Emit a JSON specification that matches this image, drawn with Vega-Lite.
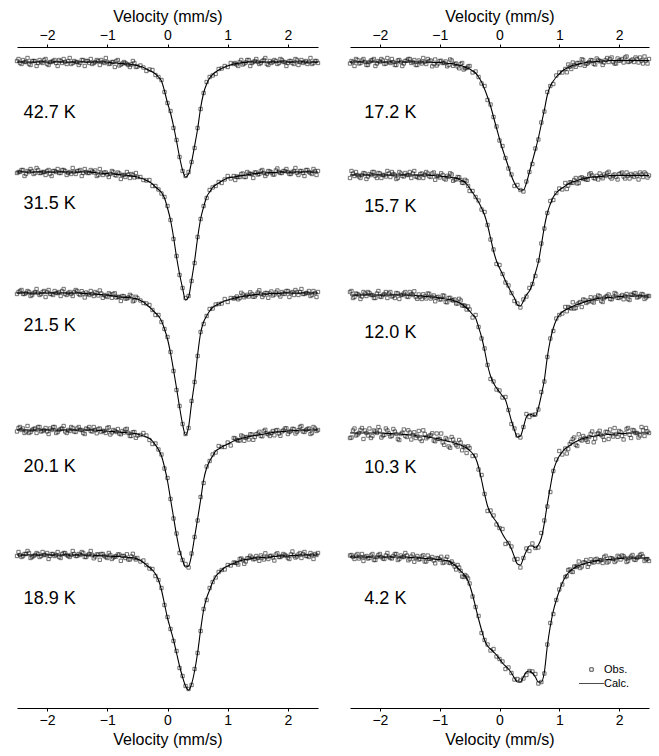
{
"$schema": "https://vega.github.io/schema/vega-lite/v6.json",
"padding": {"left": 13, "top": 8, "right": 5, "bottom": 5},
"background": "white",
"bounds": "flush",
"spacing": 32,
"config": {
  "font": "Liberation Sans",
  "view": {"stroke": null},
  "axis": {"domainColor": "#000", "tickColor": "#000", "labelColor": "#000", "titleColor": "#000", "labelFontSize": 14, "titleFontSize": 16, "titleFontWeight": "normal", "tickSize": 3, "grid": false, "labelPadding": 2, "titlePadding": 4, "domainWidth": 1, "tickWidth": 1}
},
"datasets": {
"labL": [{"s":"42.7 K","v":-2.39,"t":5.95},{"s":"31.5 K","v":-2.39,"t":5.04},{"s":"21.5 K","v":-2.39,"t":3.82},{"s":"20.1 K","v":-2.39,"t":2.41},{"s":"18.9 K","v":-2.39,"t":1.09}],
"labR": [{"s":"17.2 K","v":-2.26,"t":5.95},{"s":"15.7 K","v":-2.26,"t":5.01},{"s":"12.0 K","v":-2.26,"t":3.75},{"s":"10.3 K","v":-2.26,"t":2.40},{"s":"4.2 K","v":-2.26,"t":1.09}],
"LX": [
{"s":"42.7 K","v":-2.475,"o":6.49},{"s":"42.7 K","v":-2.425,"o":6.44},{"s":"42.7 K","v":-2.375,"o":6.46},{"s":"42.7 K","v":-2.325,"o":6.5},{"s":"42.7 K","v":-2.275,"o":6.43},{"s":"42.7 K","v":-2.225,"o":6.47},{"s":"42.7 K","v":-2.175,"o":6.42},{"s":"42.7 K","v":-2.125,"o":6.48},{"s":"42.7 K","v":-2.075,"o":6.45},{"s":"42.7 K","v":-2.025,"o":6.49},
{"s":"42.7 K","v":-1.975,"o":6.43},{"s":"42.7 K","v":-1.925,"o":6.46},{"s":"42.7 K","v":-1.875,"o":6.48},{"s":"42.7 K","v":-1.825,"o":6.42},{"s":"42.7 K","v":-1.775,"o":6.47},{"s":"42.7 K","v":-1.725,"o":6.49},{"s":"42.7 K","v":-1.675,"o":6.44},{"s":"42.7 K","v":-1.625,"o":6.5},{"s":"42.7 K","v":-1.575,"o":6.45},{"s":"42.7 K","v":-1.525,"o":6.46},
{"s":"42.7 K","v":-1.475,"o":6.43},{"s":"42.7 K","v":-1.425,"o":6.48},{"s":"42.7 K","v":-1.375,"o":6.42},{"s":"42.7 K","v":-1.325,"o":6.47},{"s":"42.7 K","v":-1.275,"o":6.49},{"s":"42.7 K","v":-1.225,"o":6.45},{"s":"42.7 K","v":-1.175,"o":6.48},{"s":"42.7 K","v":-1.125,"o":6.43},{"s":"42.7 K","v":-1.075,"o":6.46},{"s":"42.7 K","v":-1.025,"o":6.5},
{"s":"42.7 K","v":-0.975,"o":6.44},{"s":"42.7 K","v":-0.925,"o":6.46},{"s":"42.7 K","v":-0.875,"o":6.41},{"s":"42.7 K","v":-0.825,"o":6.48},{"s":"42.7 K","v":-0.775,"o":6.435},{"s":"42.7 K","v":-0.725,"o":6.46},{"s":"42.7 K","v":-0.675,"o":6.44},{"s":"42.7 K","v":-0.625,"o":6.41},{"s":"42.7 K","v":-0.575,"o":6.47},{"s":"42.7 K","v":-0.525,"o":6.41},
{"s":"42.7 K","v":1.125,"o":6.45},{"s":"42.7 K","v":1.175,"o":6.42},{"s":"42.7 K","v":1.225,"o":6.48},{"s":"42.7 K","v":1.275,"o":6.445},{"s":"42.7 K","v":1.325,"o":6.48},{"s":"42.7 K","v":1.375,"o":6.42},{"s":"42.7 K","v":1.425,"o":6.46},{"s":"42.7 K","v":1.475,"o":6.49},{"s":"42.7 K","v":1.525,"o":6.44},{"s":"42.7 K","v":1.575,"o":6.47},
{"s":"42.7 K","v":1.625,"o":6.5},{"s":"42.7 K","v":1.675,"o":6.43},{"s":"42.7 K","v":1.725,"o":6.45},{"s":"42.7 K","v":1.775,"o":6.48},{"s":"42.7 K","v":1.825,"o":6.44},{"s":"42.7 K","v":1.875,"o":6.49},{"s":"42.7 K","v":1.925,"o":6.46},{"s":"42.7 K","v":1.975,"o":6.42},{"s":"42.7 K","v":2.025,"o":6.47},{"s":"42.7 K","v":2.075,"o":6.45},
{"s":"42.7 K","v":2.125,"o":6.49},{"s":"42.7 K","v":2.175,"o":6.43},{"s":"42.7 K","v":2.225,"o":6.48},{"s":"42.7 K","v":2.275,"o":6.46},{"s":"42.7 K","v":2.325,"o":6.44},{"s":"42.7 K","v":2.375,"o":6.5},{"s":"42.7 K","v":2.425,"o":6.45},{"s":"42.7 K","v":2.475,"o":6.47},

{"s":"31.5 K","v":-2.475,"o":5.36},{"s":"31.5 K","v":-2.425,"o":5.38},{"s":"31.5 K","v":-2.375,"o":5.32},{"s":"31.5 K","v":-2.325,"o":5.37},{"s":"31.5 K","v":-2.275,"o":5.39},{"s":"31.5 K","v":-2.225,"o":5.34},{"s":"31.5 K","v":-2.175,"o":5.4},{"s":"31.5 K","v":-2.125,"o":5.35},{"s":"31.5 K","v":-2.075,"o":5.36},{"s":"31.5 K","v":-2.025,"o":5.33},
{"s":"31.5 K","v":-1.975,"o":5.38},{"s":"31.5 K","v":-1.925,"o":5.32},{"s":"31.5 K","v":-1.875,"o":5.37},{"s":"31.5 K","v":-1.825,"o":5.39},{"s":"31.5 K","v":-1.775,"o":5.35},{"s":"31.5 K","v":-1.725,"o":5.38},{"s":"31.5 K","v":-1.675,"o":5.33},{"s":"31.5 K","v":-1.625,"o":5.36},{"s":"31.5 K","v":-1.575,"o":5.4},{"s":"31.5 K","v":-1.525,"o":5.34},
{"s":"31.5 K","v":-1.475,"o":5.37},{"s":"31.5 K","v":-1.425,"o":5.32},{"s":"31.5 K","v":-1.375,"o":5.39},{"s":"31.5 K","v":-1.325,"o":5.35},{"s":"31.5 K","v":-1.275,"o":5.38},{"s":"31.5 K","v":-1.225,"o":5.355},{"s":"31.5 K","v":-1.175,"o":5.32},{"s":"31.5 K","v":-1.125,"o":5.39},{"s":"31.5 K","v":-1.075,"o":5.33},{"s":"31.5 K","v":-1.025,"o":5.355},
{"s":"31.5 K","v":-0.975,"o":5.31},{"s":"31.5 K","v":-0.925,"o":5.37},{"s":"31.5 K","v":-0.875,"o":5.33},{"s":"31.5 K","v":-0.825,"o":5.355},{"s":"31.5 K","v":-0.775,"o":5.29},{"s":"31.5 K","v":-0.725,"o":5.33},{"s":"31.5 K","v":-0.675,"o":5.36},{"s":"31.5 K","v":-0.625,"o":5.3},{"s":"31.5 K","v":-0.575,"o":5.33},{"s":"31.5 K","v":-0.525,"o":5.35},
{"s":"31.5 K","v":1.125,"o":5.28},{"s":"31.5 K","v":1.175,"o":5.31},{"s":"31.5 K","v":1.225,"o":5.34},{"s":"31.5 K","v":1.275,"o":5.31},{"s":"31.5 K","v":1.325,"o":5.36},{"s":"31.5 K","v":1.375,"o":5.34},{"s":"31.5 K","v":1.425,"o":5.3},{"s":"31.5 K","v":1.475,"o":5.355},{"s":"31.5 K","v":1.525,"o":5.34},{"s":"31.5 K","v":1.575,"o":5.38},
{"s":"31.5 K","v":1.625,"o":5.32},{"s":"31.5 K","v":1.675,"o":5.37},{"s":"31.5 K","v":1.725,"o":5.355},{"s":"31.5 K","v":1.775,"o":5.335},{"s":"31.5 K","v":1.825,"o":5.395},{"s":"31.5 K","v":1.875,"o":5.35},{"s":"31.5 K","v":1.925,"o":5.37},{"s":"31.5 K","v":1.975,"o":5.39},{"s":"31.5 K","v":2.025,"o":5.34},{"s":"31.5 K","v":2.075,"o":5.36},
{"s":"31.5 K","v":2.125,"o":5.4},{"s":"31.5 K","v":2.175,"o":5.33},{"s":"31.5 K","v":2.225,"o":5.37},{"s":"31.5 K","v":2.275,"o":5.32},{"s":"31.5 K","v":2.325,"o":5.38},{"s":"31.5 K","v":2.375,"o":5.35},{"s":"31.5 K","v":2.425,"o":5.39},{"s":"31.5 K","v":2.475,"o":5.33},

{"s":"21.5 K","v":-2.475,"o":4.16},{"s":"21.5 K","v":-2.425,"o":4.18},{"s":"21.5 K","v":-2.375,"o":4.14},{"s":"21.5 K","v":-2.325,"o":4.17},{"s":"21.5 K","v":-2.275,"o":4.12},{"s":"21.5 K","v":-2.225,"o":4.15},{"s":"21.5 K","v":-2.175,"o":4.19},{"s":"21.5 K","v":-2.125,"o":4.13},{"s":"21.5 K","v":-2.075,"o":4.16},{"s":"21.5 K","v":-2.025,"o":4.11},
{"s":"21.5 K","v":-1.975,"o":4.18},{"s":"21.5 K","v":-1.925,"o":4.14},{"s":"21.5 K","v":-1.875,"o":4.17},{"s":"21.5 K","v":-1.825,"o":4.15},{"s":"21.5 K","v":-1.775,"o":4.12},{"s":"21.5 K","v":-1.725,"o":4.19},{"s":"21.5 K","v":-1.675,"o":4.13},{"s":"21.5 K","v":-1.625,"o":4.16},{"s":"21.5 K","v":-1.575,"o":4.12},{"s":"21.5 K","v":-1.525,"o":4.18},
{"s":"21.5 K","v":-1.475,"o":4.14},{"s":"21.5 K","v":-1.425,"o":4.168},{"s":"21.5 K","v":-1.375,"o":4.105},{"s":"21.5 K","v":-1.325,"o":4.142},{"s":"21.5 K","v":-1.275,"o":4.17},{"s":"21.5 K","v":-1.225,"o":4.12},{"s":"21.5 K","v":-1.175,"o":4.147},{"s":"21.5 K","v":-1.125,"o":4.175},{"s":"21.5 K","v":-1.075,"o":4.102},{"s":"21.5 K","v":-1.025,"o":4.12},
{"s":"21.5 K","v":-0.975,"o":4.147},{"s":"21.5 K","v":-0.925,"o":4.102},{"s":"21.5 K","v":-0.875,"o":4.147},{"s":"21.5 K","v":-0.825,"o":4.112},{"s":"21.5 K","v":-0.775,"o":4.07},{"s":"21.5 K","v":-0.725,"o":4.117},{"s":"21.5 K","v":-0.675,"o":4.095},{"s":"21.5 K","v":-0.625,"o":4.132},{"s":"21.5 K","v":-0.575,"o":4.067},{"s":"21.5 K","v":-0.525,"o":4.112},
{"s":"21.5 K","v":1.125,"o":4.1},{"s":"21.5 K","v":1.175,"o":4.087},{"s":"21.5 K","v":1.225,"o":4.152},{"s":"21.5 K","v":1.275,"o":4.107},{"s":"21.5 K","v":1.325,"o":4.132},{"s":"21.5 K","v":1.375,"o":4.157},{"s":"21.5 K","v":1.425,"o":4.112},{"s":"21.5 K","v":1.475,"o":4.135},{"s":"21.5 K","v":1.525,"o":4.177},{"s":"21.5 K","v":1.575,"o":4.11},
{"s":"21.5 K","v":1.625,"o":4.15},{"s":"21.5 K","v":1.675,"o":4.102},{"s":"21.5 K","v":1.725,"o":4.165},{"s":"21.5 K","v":1.775,"o":4.135},{"s":"21.5 K","v":1.825,"o":4.175},{"s":"21.5 K","v":1.875,"o":4.115},{"s":"21.5 K","v":1.925,"o":4.145},{"s":"21.5 K","v":1.975,"o":4.17},{"s":"21.5 K","v":2.025,"o":4.11},{"s":"21.5 K","v":2.075,"o":4.16},
{"s":"21.5 K","v":2.125,"o":4.18},{"s":"21.5 K","v":2.175,"o":4.13},{"s":"21.5 K","v":2.225,"o":4.19},{"s":"21.5 K","v":2.275,"o":4.14},{"s":"21.5 K","v":2.325,"o":4.15},{"s":"21.5 K","v":2.375,"o":4.12},{"s":"21.5 K","v":2.425,"o":4.17},{"s":"21.5 K","v":2.475,"o":4.11},

{"s":"20.1 K","v":-2.475,"o":2.8},{"s":"20.1 K","v":-2.425,"o":2.78},{"s":"20.1 K","v":-2.375,"o":2.75},{"s":"20.1 K","v":-2.325,"o":2.82},{"s":"20.1 K","v":-2.275,"o":2.76},{"s":"20.1 K","v":-2.225,"o":2.79},{"s":"20.1 K","v":-2.175,"o":2.75},{"s":"20.1 K","v":-2.125,"o":2.81},{"s":"20.1 K","v":-2.075,"o":2.77},{"s":"20.1 K","v":-2.025,"o":2.8},
{"s":"20.1 K","v":-1.975,"o":2.74},{"s":"20.1 K","v":-1.925,"o":2.78},{"s":"20.1 K","v":-1.875,"o":2.81},{"s":"20.1 K","v":-1.825,"o":2.76},{"s":"20.1 K","v":-1.775,"o":2.79},{"s":"20.1 K","v":-1.725,"o":2.82},{"s":"20.1 K","v":-1.675,"o":2.75},{"s":"20.1 K","v":-1.625,"o":2.77},{"s":"20.1 K","v":-1.575,"o":2.8},{"s":"20.1 K","v":-1.525,"o":2.76},
{"s":"20.1 K","v":-1.475,"o":2.81},{"s":"20.1 K","v":-1.425,"o":2.78},{"s":"20.1 K","v":-1.375,"o":2.74},{"s":"20.1 K","v":-1.325,"o":2.79},{"s":"20.1 K","v":-1.275,"o":2.77},{"s":"20.1 K","v":-1.225,"o":2.81},{"s":"20.1 K","v":-1.175,"o":2.747},{"s":"20.1 K","v":-1.125,"o":2.795},{"s":"20.1 K","v":-1.075,"o":2.772},{"s":"20.1 K","v":-1.025,"o":2.75},
{"s":"20.1 K","v":-0.975,"o":2.807},{"s":"20.1 K","v":-0.925,"o":2.755},{"s":"20.1 K","v":-0.875,"o":2.772},{"s":"20.1 K","v":-0.825,"o":2.79},{"s":"20.1 K","v":-0.775,"o":2.737},{"s":"20.1 K","v":-0.725,"o":2.755},{"s":"20.1 K","v":-0.675,"o":2.792},{"s":"20.1 K","v":-0.625,"o":2.72},{"s":"20.1 K","v":-0.575,"o":2.757},{"s":"20.1 K","v":-0.525,"o":2.702},
{"s":"20.1 K","v":1.125,"o":2.695},{"s":"20.1 K","v":1.175,"o":2.675},{"s":"20.1 K","v":1.225,"o":2.725},{"s":"20.1 K","v":1.275,"o":2.672},{"s":"20.1 K","v":1.325,"o":2.71},{"s":"20.1 K","v":1.375,"o":2.737},{"s":"20.1 K","v":1.425,"o":2.682},{"s":"20.1 K","v":1.475,"o":2.737},{"s":"20.1 K","v":1.525,"o":2.762},{"s":"20.1 K","v":1.575,"o":2.717},
{"s":"20.1 K","v":1.625,"o":2.782},{"s":"20.1 K","v":1.675,"o":2.737},{"s":"20.1 K","v":1.725,"o":2.752},{"s":"20.1 K","v":1.775,"o":2.727},{"s":"20.1 K","v":1.825,"o":2.78},{"s":"20.1 K","v":1.875,"o":2.722},{"s":"20.1 K","v":1.925,"o":2.775},{"s":"20.1 K","v":1.975,"o":2.797},{"s":"20.1 K","v":2.025,"o":2.76},{"s":"20.1 K","v":2.075,"o":2.792},
{"s":"20.1 K","v":2.125,"o":2.745},{"s":"20.1 K","v":2.175,"o":2.777},{"s":"20.1 K","v":2.225,"o":2.82},{"s":"20.1 K","v":2.275,"o":2.76},{"s":"20.1 K","v":2.325,"o":2.79},{"s":"20.1 K","v":2.375,"o":2.74},{"s":"20.1 K","v":2.425,"o":2.81},{"s":"20.1 K","v":2.475,"o":2.77},

{"s":"18.9 K","v":-2.475,"o":1.56},{"s":"18.9 K","v":-2.425,"o":1.51},{"s":"18.9 K","v":-2.375,"o":1.54},{"s":"18.9 K","v":-2.325,"o":1.57},{"s":"18.9 K","v":-2.275,"o":1.5},{"s":"18.9 K","v":-2.225,"o":1.52},{"s":"18.9 K","v":-2.175,"o":1.55},{"s":"18.9 K","v":-2.125,"o":1.51},{"s":"18.9 K","v":-2.075,"o":1.56},{"s":"18.9 K","v":-2.025,"o":1.53},
{"s":"18.9 K","v":-1.975,"o":1.49},{"s":"18.9 K","v":-1.925,"o":1.54},{"s":"18.9 K","v":-1.875,"o":1.52},{"s":"18.9 K","v":-1.825,"o":1.56},{"s":"18.9 K","v":-1.775,"o":1.5},{"s":"18.9 K","v":-1.725,"o":1.55},{"s":"18.9 K","v":-1.675,"o":1.53},{"s":"18.9 K","v":-1.625,"o":1.51},{"s":"18.9 K","v":-1.575,"o":1.57},{"s":"18.9 K","v":-1.525,"o":1.52},
{"s":"18.9 K","v":-1.475,"o":1.54},{"s":"18.9 K","v":-1.425,"o":1.56},{"s":"18.9 K","v":-1.375,"o":1.51},{"s":"18.9 K","v":-1.325,"o":1.53},{"s":"18.9 K","v":-1.275,"o":1.57},{"s":"18.9 K","v":-1.225,"o":1.497},{"s":"18.9 K","v":-1.175,"o":1.535},{"s":"18.9 K","v":-1.125,"o":1.482},{"s":"18.9 K","v":-1.075,"o":1.54},{"s":"18.9 K","v":-1.025,"o":1.51},
{"s":"18.9 K","v":-0.975,"o":1.55},{"s":"18.9 K","v":-0.925,"o":1.49},{"s":"18.9 K","v":-0.875,"o":1.515},{"s":"18.9 K","v":-0.825,"o":1.535},{"s":"18.9 K","v":-0.775,"o":1.472},{"s":"18.9 K","v":-0.725,"o":1.52},{"s":"18.9 K","v":-0.675,"o":1.537},{"s":"18.9 K","v":-0.625,"o":1.485},{"s":"18.9 K","v":-0.575,"o":1.542},{"s":"18.9 K","v":-0.525,"o":1.485},
{"s":"18.9 K","v":1.125,"o":1.452},{"s":"18.9 K","v":1.175,"o":1.435},{"s":"18.9 K","v":1.225,"o":1.495},{"s":"18.9 K","v":1.275,"o":1.442},{"s":"18.9 K","v":1.325,"o":1.497},{"s":"18.9 K","v":1.375,"o":1.522},{"s":"18.9 K","v":1.425,"o":1.487},{"s":"18.9 K","v":1.475,"o":1.52},{"s":"18.9 K","v":1.525,"o":1.472},{"s":"18.9 K","v":1.575,"o":1.505},
{"s":"18.9 K","v":1.625,"o":1.547},{"s":"18.9 K","v":1.675,"o":1.49},{"s":"18.9 K","v":1.725,"o":1.522},{"s":"18.9 K","v":1.775,"o":1.475},{"s":"18.9 K","v":1.825,"o":1.547},{"s":"18.9 K","v":1.875,"o":1.51},{"s":"18.9 K","v":1.925,"o":1.54},{"s":"18.9 K","v":1.975,"o":1.52},{"s":"18.9 K","v":2.025,"o":1.49},{"s":"18.9 K","v":2.075,"o":1.565},
{"s":"18.9 K","v":2.125,"o":1.505},{"s":"18.9 K","v":2.175,"o":1.535},{"s":"18.9 K","v":2.225,"o":1.5},{"s":"18.9 K","v":2.275,"o":1.56},{"s":"18.9 K","v":2.325,"o":1.52},{"s":"18.9 K","v":2.375,"o":1.55},{"s":"18.9 K","v":2.425,"o":1.49},{"s":"18.9 K","v":2.475,"o":1.53}
],
"RX": [
{"s":"17.2 K","v":-2.475,"o":6.47},{"s":"17.2 K","v":-2.425,"o":6.42},{"s":"17.2 K","v":-2.375,"o":6.48},{"s":"17.2 K","v":-2.325,"o":6.45},{"s":"17.2 K","v":-2.275,"o":6.49},{"s":"17.2 K","v":-2.225,"o":6.43},{"s":"17.2 K","v":-2.175,"o":6.46},{"s":"17.2 K","v":-2.125,"o":6.48},{"s":"17.2 K","v":-2.075,"o":6.42},{"s":"17.2 K","v":-2.025,"o":6.47},
{"s":"17.2 K","v":-1.975,"o":6.49},{"s":"17.2 K","v":-1.925,"o":6.44},{"s":"17.2 K","v":-1.875,"o":6.5},{"s":"17.2 K","v":-1.825,"o":6.45},{"s":"17.2 K","v":-1.775,"o":6.46},{"s":"17.2 K","v":-1.725,"o":6.43},{"s":"17.2 K","v":-1.675,"o":6.48},{"s":"17.2 K","v":-1.625,"o":6.42},{"s":"17.2 K","v":-1.575,"o":6.47},{"s":"17.2 K","v":-1.525,"o":6.49},
{"s":"17.2 K","v":-1.475,"o":6.45},{"s":"17.2 K","v":-1.425,"o":6.48},{"s":"17.2 K","v":-1.375,"o":6.43},{"s":"17.2 K","v":-1.325,"o":6.46},{"s":"17.2 K","v":-1.275,"o":6.5},{"s":"17.2 K","v":-1.225,"o":6.44},{"s":"17.2 K","v":-1.175,"o":6.47},{"s":"17.2 K","v":-1.125,"o":6.417},{"s":"17.2 K","v":-1.075,"o":6.485},{"s":"17.2 K","v":-1.025,"o":6.445},
{"s":"17.2 K","v":-0.975,"o":6.472},{"s":"17.2 K","v":-0.925,"o":6.45},{"s":"17.2 K","v":-0.875,"o":6.417},{"s":"17.2 K","v":-0.825,"o":6.485},{"s":"17.2 K","v":-0.775,"o":6.422},{"s":"17.2 K","v":-0.725,"o":6.445},{"s":"17.2 K","v":-0.675,"o":6.397},{"s":"17.2 K","v":-0.625,"o":6.45},{"s":"17.2 K","v":-0.575,"o":6.397},{"s":"17.2 K","v":-0.525,"o":6.415},
{"s":"17.2 K","v":1.125,"o":6.357},{"s":"17.2 K","v":1.175,"o":6.412},{"s":"17.2 K","v":1.225,"o":6.455},{"s":"17.2 K","v":1.275,"o":6.412},{"s":"17.2 K","v":1.325,"o":6.45},{"s":"17.2 K","v":1.375,"o":6.487},{"s":"17.2 K","v":1.425,"o":6.422},{"s":"17.2 K","v":1.475,"o":6.447},{"s":"17.2 K","v":1.525,"o":6.48},{"s":"17.2 K","v":1.575,"o":6.442},
{"s":"17.2 K","v":1.625,"o":6.495},{"s":"17.2 K","v":1.675,"o":6.467},{"s":"17.2 K","v":1.725,"o":6.43},{"s":"17.2 K","v":1.775,"o":6.48},{"s":"17.2 K","v":1.825,"o":6.46},{"s":"17.2 K","v":1.875,"o":6.505},{"s":"17.2 K","v":1.925,"o":6.445},{"s":"17.2 K","v":1.975,"o":6.495},{"s":"17.2 K","v":2.025,"o":6.475},{"s":"17.2 K","v":2.075,"o":6.455},
{"s":"17.2 K","v":2.125,"o":6.515},{"s":"17.2 K","v":2.175,"o":6.465},{"s":"17.2 K","v":2.225,"o":6.485},{"s":"17.2 K","v":2.275,"o":6.505},{"s":"17.2 K","v":2.325,"o":6.455},{"s":"17.2 K","v":2.375,"o":6.475},{"s":"17.2 K","v":2.425,"o":6.515},{"s":"17.2 K","v":2.475,"o":6.445},

{"s":"15.7 K","v":-2.475,"o":5.37},{"s":"15.7 K","v":-2.425,"o":5.32},{"s":"15.7 K","v":-2.375,"o":5.33},{"s":"15.7 K","v":-2.325,"o":5.3},{"s":"15.7 K","v":-2.275,"o":5.35},{"s":"15.7 K","v":-2.225,"o":5.29},{"s":"15.7 K","v":-2.175,"o":5.34},{"s":"15.7 K","v":-2.125,"o":5.36},{"s":"15.7 K","v":-2.075,"o":5.32},{"s":"15.7 K","v":-2.025,"o":5.35},
{"s":"15.7 K","v":-1.975,"o":5.3},{"s":"15.7 K","v":-1.925,"o":5.33},{"s":"15.7 K","v":-1.875,"o":5.37},{"s":"15.7 K","v":-1.825,"o":5.31},{"s":"15.7 K","v":-1.775,"o":5.34},{"s":"15.7 K","v":-1.725,"o":5.29},{"s":"15.7 K","v":-1.675,"o":5.36},{"s":"15.7 K","v":-1.625,"o":5.32},{"s":"15.7 K","v":-1.575,"o":5.35},{"s":"15.7 K","v":-1.525,"o":5.33},
{"s":"15.7 K","v":-1.475,"o":5.3},{"s":"15.7 K","v":-1.425,"o":5.37},{"s":"15.7 K","v":-1.375,"o":5.31},{"s":"15.7 K","v":-1.325,"o":5.34},{"s":"15.7 K","v":-1.275,"o":5.3},{"s":"15.7 K","v":-1.225,"o":5.36},{"s":"15.7 K","v":-1.175,"o":5.317},{"s":"15.7 K","v":-1.125,"o":5.345},{"s":"15.7 K","v":-1.075,"o":5.282},{"s":"15.7 K","v":-1.025,"o":5.32},
{"s":"15.7 K","v":-0.975,"o":5.347},{"s":"15.7 K","v":-0.925,"o":5.295},{"s":"15.7 K","v":-0.875,"o":5.322},{"s":"15.7 K","v":-0.825,"o":5.347},{"s":"15.7 K","v":-0.775,"o":5.272},{"s":"15.7 K","v":-0.725,"o":5.287},{"s":"15.7 K","v":-0.675,"o":5.307},{"s":"15.7 K","v":-0.625,"o":5.252},{"s":"15.7 K","v":-0.575,"o":5.282},{"s":"15.7 K","v":-0.525,"o":5.22},
{"s":"15.7 K","v":1.125,"o":5.19},{"s":"15.7 K","v":1.175,"o":5.257},{"s":"15.7 K","v":1.225,"o":5.25},{"s":"15.7 K","v":1.275,"o":5.3},{"s":"15.7 K","v":1.325,"o":5.25},{"s":"15.7 K","v":1.375,"o":5.307},{"s":"15.7 K","v":1.425,"o":5.295},{"s":"15.7 K","v":1.475,"o":5.282},{"s":"15.7 K","v":1.525,"o":5.347},{"s":"15.7 K","v":1.575,"o":5.3},
{"s":"15.7 K","v":1.625,"o":5.322},{"s":"15.7 K","v":1.675,"o":5.345},{"s":"15.7 K","v":1.725,"o":5.297},{"s":"15.7 K","v":1.775,"o":5.32},{"s":"15.7 K","v":1.825,"o":5.362},{"s":"15.7 K","v":1.875,"o":5.295},{"s":"15.7 K","v":1.925,"o":5.335},{"s":"15.7 K","v":1.975,"o":5.285},{"s":"15.7 K","v":2.025,"o":5.345},{"s":"15.7 K","v":2.075,"o":5.315},
{"s":"15.7 K","v":2.125,"o":5.355},{"s":"15.7 K","v":2.175,"o":5.295},{"s":"15.7 K","v":2.225,"o":5.325},{"s":"15.7 K","v":2.275,"o":5.345},{"s":"15.7 K","v":2.325,"o":5.285},{"s":"15.7 K","v":2.375,"o":5.335},{"s":"15.7 K","v":2.425,"o":5.355},{"s":"15.7 K","v":2.475,"o":5.305},

{"s":"12.0 K","v":-2.475,"o":4.17},{"s":"12.0 K","v":-2.425,"o":4.11},{"s":"12.0 K","v":-2.375,"o":4.14},{"s":"12.0 K","v":-2.325,"o":4.09},{"s":"12.0 K","v":-2.275,"o":4.16},{"s":"12.0 K","v":-2.225,"o":4.12},{"s":"12.0 K","v":-2.175,"o":4.15},{"s":"12.0 K","v":-2.125,"o":4.13},{"s":"12.0 K","v":-2.075,"o":4.1},{"s":"12.0 K","v":-2.025,"o":4.17},
{"s":"12.0 K","v":-1.975,"o":4.11},{"s":"12.0 K","v":-1.925,"o":4.14},{"s":"12.0 K","v":-1.875,"o":4.1},{"s":"12.0 K","v":-1.825,"o":4.16},{"s":"12.0 K","v":-1.775,"o":4.12},{"s":"12.0 K","v":-1.725,"o":4.15},{"s":"12.0 K","v":-1.675,"o":4.09},{"s":"12.0 K","v":-1.625,"o":4.13},{"s":"12.0 K","v":-1.575,"o":4.16},{"s":"12.0 K","v":-1.525,"o":4.11},
{"s":"12.0 K","v":-1.475,"o":4.14},{"s":"12.0 K","v":-1.425,"o":4.167},{"s":"12.0 K","v":-1.375,"o":4.092},{"s":"12.0 K","v":-1.325,"o":4.11},{"s":"12.0 K","v":-1.275,"o":4.137},{"s":"12.0 K","v":-1.225,"o":4.095},{"s":"12.0 K","v":-1.175,"o":4.142},{"s":"12.0 K","v":-1.125,"o":4.11},{"s":"12.0 K","v":-1.075,"o":4.067},{"s":"12.0 K","v":-1.025,"o":4.112},
{"s":"12.0 K","v":-0.975,"o":4.087},{"s":"12.0 K","v":-0.925,"o":4.122},{"s":"12.0 K","v":-0.875,"o":4.057},{"s":"12.0 K","v":-0.825,"o":4.102},{"s":"12.0 K","v":-0.775,"o":4.075},{"s":"12.0 K","v":-0.725,"o":4.045},{"s":"12.0 K","v":-0.675,"o":4.092},{"s":"12.0 K","v":-0.625,"o":4.025},{"s":"12.0 K","v":-0.575,"o":4.022},{"s":"12.0 K","v":-0.525,"o":4.015},
{"s":"12.0 K","v":1.125,"o":3.967},{"s":"12.0 K","v":1.175,"o":4.002},{"s":"12.0 K","v":1.225,"o":4.057},{"s":"12.0 K","v":1.275,"o":4.0},{"s":"12.0 K","v":1.325,"o":4.05},{"s":"12.0 K","v":1.375,"o":4.01},{"s":"12.0 K","v":1.425,"o":4.08},{"s":"12.0 K","v":1.475,"o":4.06},{"s":"12.0 K","v":1.525,"o":4.107},{"s":"12.0 K","v":1.575,"o":4.055},
{"s":"12.0 K","v":1.625,"o":4.092},{"s":"12.0 K","v":1.675,"o":4.117},{"s":"12.0 K","v":1.725,"o":4.06},{"s":"12.0 K","v":1.775,"o":4.112},{"s":"12.0 K","v":1.825,"o":4.135},{"s":"12.0 K","v":1.875,"o":4.087},{"s":"12.0 K","v":1.925,"o":4.15},{"s":"12.0 K","v":1.975,"o":4.102},{"s":"12.0 K","v":2.025,"o":4.115},{"s":"12.0 K","v":2.075,"o":4.087},
{"s":"12.0 K","v":2.125,"o":4.14},{"s":"12.0 K","v":2.175,"o":4.08},{"s":"12.0 K","v":2.225,"o":4.13},{"s":"12.0 K","v":2.275,"o":4.15},{"s":"12.0 K","v":2.325,"o":4.11},{"s":"12.0 K","v":2.375,"o":4.14},{"s":"12.0 K","v":2.425,"o":4.09},{"s":"12.0 K","v":2.475,"o":4.12},

{"s":"10.3 K","v":-2.475,"o":2.705},{"s":"10.3 K","v":-2.425,"o":2.795},{"s":"10.3 K","v":-2.375,"o":2.735},{"s":"10.3 K","v":-2.325,"o":2.78},{"s":"10.3 K","v":-2.275,"o":2.69},{"s":"10.3 K","v":-2.225,"o":2.75},{"s":"10.3 K","v":-2.175,"o":2.795},{"s":"10.3 K","v":-2.125,"o":2.72},{"s":"10.3 K","v":-2.075,"o":2.765},{"s":"10.3 K","v":-2.025,"o":2.81},
{"s":"10.3 K","v":-1.975,"o":2.705},{"s":"10.3 K","v":-1.925,"o":2.732},{"s":"10.3 K","v":-1.875,"o":2.775},{"s":"10.3 K","v":-1.825,"o":2.715},{"s":"10.3 K","v":-1.775,"o":2.79},{"s":"10.3 K","v":-1.725,"o":2.74},{"s":"10.3 K","v":-1.675,"o":2.68},{"s":"10.3 K","v":-1.625,"o":2.752},{"s":"10.3 K","v":-1.575,"o":2.72},{"s":"10.3 K","v":-1.525,"o":2.777},
{"s":"10.3 K","v":-1.475,"o":2.685},{"s":"10.3 K","v":-1.425,"o":2.757},{"s":"10.3 K","v":-1.375,"o":2.722},{"s":"10.3 K","v":-1.325,"o":2.69},{"s":"10.3 K","v":-1.275,"o":2.777},{"s":"10.3 K","v":-1.225,"o":2.697},{"s":"10.3 K","v":-1.175,"o":2.722},{"s":"10.3 K","v":-1.125,"o":2.747},{"s":"10.3 K","v":-1.075,"o":2.667},{"s":"10.3 K","v":-1.025,"o":2.692},
{"s":"10.3 K","v":-0.975,"o":2.745},{"s":"10.3 K","v":-0.925,"o":2.632},{"s":"10.3 K","v":-0.875,"o":2.685},{"s":"10.3 K","v":-0.825,"o":2.602},{"s":"10.3 K","v":-0.775,"o":2.685},{"s":"10.3 K","v":-0.725,"o":2.63},{"s":"10.3 K","v":-0.675,"o":2.68},{"s":"10.3 K","v":-0.625,"o":2.577},{"s":"10.3 K","v":-0.575,"o":2.607},{"s":"10.3 K","v":-0.525,"o":2.617},
{"s":"10.3 K","v":1.125,"o":2.545},{"s":"10.3 K","v":1.175,"o":2.64},{"s":"10.3 K","v":1.225,"o":2.69},{"s":"10.3 K","v":1.275,"o":2.632},{"s":"10.3 K","v":1.325,"o":2.737},{"s":"10.3 K","v":1.375,"o":2.675},{"s":"10.3 K","v":1.425,"o":2.7},{"s":"10.3 K","v":1.475,"o":2.662},{"s":"10.3 K","v":1.525,"o":2.742},{"s":"10.3 K","v":1.575,"o":2.657},
{"s":"10.3 K","v":1.625,"o":2.737},{"s":"10.3 K","v":1.675,"o":2.772},{"s":"10.3 K","v":1.725,"o":2.715},{"s":"10.3 K","v":1.775,"o":2.762},{"s":"10.3 K","v":1.825,"o":2.69},{"s":"10.3 K","v":1.875,"o":2.737},{"s":"10.3 K","v":1.925,"o":2.8},{"s":"10.3 K","v":1.975,"o":2.712},{"s":"10.3 K","v":2.025,"o":2.76},{"s":"10.3 K","v":2.075,"o":2.685},
{"s":"10.3 K","v":2.125,"o":2.79},{"s":"10.3 K","v":2.175,"o":2.732},{"s":"10.3 K","v":2.225,"o":2.78},{"s":"10.3 K","v":2.275,"o":2.75},{"s":"10.3 K","v":2.325,"o":2.705},{"s":"10.3 K","v":2.375,"o":2.81},{"s":"10.3 K","v":2.425,"o":2.72},{"s":"10.3 K","v":2.475,"o":2.765},

{"s":"4.2 K","v":-2.475,"o":1.53},{"s":"4.2 K","v":-2.425,"o":1.49},{"s":"4.2 K","v":-2.375,"o":1.54},{"s":"4.2 K","v":-2.325,"o":1.51},{"s":"4.2 K","v":-2.275,"o":1.47},{"s":"4.2 K","v":-2.225,"o":1.52},{"s":"4.2 K","v":-2.175,"o":1.5},{"s":"4.2 K","v":-2.125,"o":1.54},{"s":"4.2 K","v":-2.075,"o":1.48},{"s":"4.2 K","v":-2.025,"o":1.53},
{"s":"4.2 K","v":-1.975,"o":1.51},{"s":"4.2 K","v":-1.925,"o":1.49},{"s":"4.2 K","v":-1.875,"o":1.55},{"s":"4.2 K","v":-1.825,"o":1.5},{"s":"4.2 K","v":-1.775,"o":1.52},{"s":"4.2 K","v":-1.725,"o":1.54},{"s":"4.2 K","v":-1.675,"o":1.49},{"s":"4.2 K","v":-1.625,"o":1.51},{"s":"4.2 K","v":-1.575,"o":1.55},{"s":"4.2 K","v":-1.525,"o":1.477},
{"s":"4.2 K","v":-1.475,"o":1.515},{"s":"4.2 K","v":-1.425,"o":1.462},{"s":"4.2 K","v":-1.375,"o":1.52},{"s":"4.2 K","v":-1.325,"o":1.49},{"s":"4.2 K","v":-1.275,"o":1.527},{"s":"4.2 K","v":-1.225,"o":1.465},{"s":"4.2 K","v":-1.175,"o":1.492},{"s":"4.2 K","v":-1.125,"o":1.51},{"s":"4.2 K","v":-1.075,"o":1.447},{"s":"4.2 K","v":-1.025,"o":1.495},
{"s":"4.2 K","v":-0.975,"o":1.512},{"s":"4.2 K","v":-0.925,"o":1.457},{"s":"4.2 K","v":-0.875,"o":1.512},{"s":"4.2 K","v":-0.825,"o":1.45},{"s":"4.2 K","v":-0.775,"o":1.44},{"s":"4.2 K","v":-0.725,"o":1.385},{"s":"4.2 K","v":-0.675,"o":1.405},{"s":"4.2 K","v":-0.625,"o":1.315},{"s":"4.2 K","v":-0.575,"o":1.33},{"s":"4.2 K","v":-0.525,"o":1.295},
{"s":"4.2 K","v":1.125,"o":1.32},{"s":"4.2 K","v":1.175,"o":1.385},{"s":"4.2 K","v":1.225,"o":1.36},{"s":"4.2 K","v":1.275,"o":1.41},{"s":"4.2 K","v":1.325,"o":1.465},{"s":"4.2 K","v":1.375,"o":1.415},{"s":"4.2 K","v":1.425,"o":1.455},{"s":"4.2 K","v":1.475,"o":1.412},{"s":"4.2 K","v":1.525,"o":1.487},{"s":"4.2 K","v":1.575,"o":1.455},
{"s":"4.2 K","v":1.625,"o":1.492},{"s":"4.2 K","v":1.675,"o":1.477},{"s":"4.2 K","v":1.725,"o":1.45},{"s":"4.2 K","v":1.775,"o":1.522},{"s":"4.2 K","v":1.825,"o":1.465},{"s":"4.2 K","v":1.875,"o":1.497},{"s":"4.2 K","v":1.925,"o":1.46},{"s":"4.2 K","v":1.975,"o":1.522},{"s":"4.2 K","v":2.025,"o":1.485},{"s":"4.2 K","v":2.075,"o":1.517},
{"s":"4.2 K","v":2.125,"o":1.46},{"s":"4.2 K","v":2.175,"o":1.5},{"s":"4.2 K","v":2.225,"o":1.53},{"s":"4.2 K","v":2.275,"o":1.48},{"s":"4.2 K","v":2.325,"o":1.51},{"s":"4.2 K","v":2.375,"o":1.54},{"s":"4.2 K","v":2.425,"o":1.47},{"s":"4.2 K","v":2.475,"o":1.49}
],
"L": [
{"s":"42.7 K","v":-2.5,"o":6.47,"c":6.46},{"s":"42.7 K","v":-2.45,"o":6.45,"c":6.46},{"s":"42.7 K","v":-2.4,"o":6.48,"c":6.46},{"s":"42.7 K","v":-2.35,"o":6.46,"c":6.46},{"s":"42.7 K","v":-2.3,"o":6.44,"c":6.46},{"s":"42.7 K","v":-2.25,"o":6.47,"c":6.46},{"s":"42.7 K","v":-2.2,"o":6.47,"c":6.46},{"s":"42.7 K","v":-2.15,"o":6.45,"c":6.46},{"s":"42.7 K","v":-2.1,"o":6.46,"c":6.46},{"s":"42.7 K","v":-2.05,"o":6.48,"c":6.46},
{"s":"42.7 K","v":-2,"o":6.44,"c":6.46},{"s":"42.7 K","v":-1.95,"o":6.46,"c":6.46},{"s":"42.7 K","v":-1.9,"o":6.47,"c":6.46},{"s":"42.7 K","v":-1.85,"o":6.45,"c":6.46},{"s":"42.7 K","v":-1.8,"o":6.48,"c":6.46},{"s":"42.7 K","v":-1.75,"o":6.45,"c":6.46},{"s":"42.7 K","v":-1.7,"o":6.46,"c":6.46},{"s":"42.7 K","v":-1.65,"o":6.47,"c":6.46},{"s":"42.7 K","v":-1.6,"o":6.44,"c":6.46},{"s":"42.7 K","v":-1.55,"o":6.47,"c":6.46},
{"s":"42.7 K","v":-1.5,"o":6.46,"c":6.46},{"s":"42.7 K","v":-1.45,"o":6.45,"c":6.46},{"s":"42.7 K","v":-1.4,"o":6.48,"c":6.46},{"s":"42.7 K","v":-1.35,"o":6.47,"c":6.46},{"s":"42.7 K","v":-1.3,"o":6.45,"c":6.46},{"s":"42.7 K","v":-1.25,"o":6.44,"c":6.46},{"s":"42.7 K","v":-1.2,"o":6.46,"c":6.46},{"s":"42.7 K","v":-1.15,"o":6.47,"c":6.46},{"s":"42.7 K","v":-1.1,"o":6.48,"c":6.46},{"s":"42.7 K","v":-1.05,"o":6.45,"c":6.46},
{"s":"42.7 K","v":-1,"o":6.46,"c":6.46},{"s":"42.7 K","v":-0.95,"o":6.445,"c":6.455},{"s":"42.7 K","v":-0.9,"o":6.46,"c":6.45},{"s":"42.7 K","v":-0.85,"o":6.47,"c":6.45},{"s":"42.7 K","v":-0.8,"o":6.425,"c":6.445},{"s":"42.7 K","v":-0.75,"o":6.445,"c":6.445},{"s":"42.7 K","v":-0.7,"o":6.45,"c":6.44},{"s":"42.7 K","v":-0.65,"o":6.43,"c":6.44},{"s":"42.7 K","v":-0.6,"o":6.435,"c":6.435},{"s":"42.7 K","v":-0.55,"o":6.45,"c":6.43},
{"s":"42.7 K","v":-0.5,"o":6.415,"c":6.425},{"s":"42.7 K","v":-0.45,"o":6.425,"c":6.415},{"s":"42.7 K","v":-0.4,"o":6.405,"c":6.405},{"s":"42.7 K","v":-0.35,"o":6.37,"c":6.39},{"s":"42.7 K","v":-0.3,"o":6.385,"c":6.375},{"s":"42.7 K","v":-0.25,"o":6.38,"c":6.36},{"s":"42.7 K","v":-0.2,"o":6.33,"c":6.34},{"s":"42.7 K","v":-0.15,"o":6.31,"c":6.31},{"s":"42.7 K","v":-0.1,"o":6.28,"c":6.27},{"s":"42.7 K","v":-0.05,"o":6.16,"c":6.17},
{"s":"42.7 K","v":0,"o":6.05,"c":6.05},{"s":"42.7 K","v":0.05,"o":5.97,"c":5.95},{"s":"42.7 K","v":0.1,"o":5.8,"c":5.82},{"s":"42.7 K","v":0.15,"o":5.68,"c":5.67},{"s":"42.7 K","v":0.2,"o":5.51,"c":5.51},{"s":"42.7 K","v":0.25,"o":5.37,"c":5.38},{"s":"42.7 K","v":0.3,"o":5.32,"c":5.31},{"s":"42.7 K","v":0.35,"o":5.36,"c":5.34},{"s":"42.7 K","v":0.4,"o":5.46,"c":5.46},{"s":"42.7 K","v":0.45,"o":5.6,"c":5.62},
{"s":"42.7 K","v":0.5,"o":5.8,"c":5.79},{"s":"42.7 K","v":0.55,"o":5.99,"c":6.0},{"s":"42.7 K","v":0.6,"o":6.15,"c":6.15},{"s":"42.7 K","v":0.65,"o":6.26,"c":6.24},{"s":"42.7 K","v":0.7,"o":6.31,"c":6.3},{"s":"42.7 K","v":0.75,"o":6.325,"c":6.335},{"s":"42.7 K","v":0.8,"o":6.34,"c":6.36},{"s":"42.7 K","v":0.85,"o":6.39,"c":6.38},{"s":"42.7 K","v":0.9,"o":6.395,"c":6.395},{"s":"42.7 K","v":0.95,"o":6.42,"c":6.41},
{"s":"42.7 K","v":1,"o":6.41,"c":6.42},{"s":"42.7 K","v":1.05,"o":6.45,"c":6.43},{"s":"42.7 K","v":1.1,"o":6.44,"c":6.44},{"s":"42.7 K","v":1.15,"o":6.435,"c":6.445},{"s":"42.7 K","v":1.2,"o":6.46,"c":6.45},{"s":"42.7 K","v":1.25,"o":6.435,"c":6.455},{"s":"42.7 K","v":1.3,"o":6.455,"c":6.455},{"s":"42.7 K","v":1.35,"o":6.48,"c":6.46},{"s":"42.7 K","v":1.4,"o":6.45,"c":6.46},{"s":"42.7 K","v":1.45,"o":6.47,"c":6.46},
{"s":"42.7 K","v":1.5,"o":6.46,"c":6.46},{"s":"42.7 K","v":1.55,"o":6.45,"c":6.46},{"s":"42.7 K","v":1.6,"o":6.48,"c":6.46},{"s":"42.7 K","v":1.65,"o":6.44,"c":6.46},{"s":"42.7 K","v":1.7,"o":6.47,"c":6.46},{"s":"42.7 K","v":1.75,"o":6.46,"c":6.46},{"s":"42.7 K","v":1.8,"o":6.47,"c":6.46},{"s":"42.7 K","v":1.85,"o":6.45,"c":6.46},{"s":"42.7 K","v":1.9,"o":6.48,"c":6.46},{"s":"42.7 K","v":1.95,"o":6.46,"c":6.46},
{"s":"42.7 K","v":2,"o":6.45,"c":6.46},{"s":"42.7 K","v":2.05,"o":6.47,"c":6.46},{"s":"42.7 K","v":2.1,"o":6.44,"c":6.46},{"s":"42.7 K","v":2.15,"o":6.48,"c":6.46},{"s":"42.7 K","v":2.2,"o":6.46,"c":6.46},{"s":"42.7 K","v":2.25,"o":6.45,"c":6.46},{"s":"42.7 K","v":2.3,"o":6.47,"c":6.46},{"s":"42.7 K","v":2.35,"o":6.46,"c":6.46},{"s":"42.7 K","v":2.4,"o":6.44,"c":6.46},{"s":"42.7 K","v":2.45,"o":6.47,"c":6.46},{"s":"42.7 K","v":2.5,"o":6.45,"c":6.46},

{"s":"31.5 K","v":-2.5,"o":5.35,"c":5.36},{"s":"31.5 K","v":-2.45,"o":5.36,"c":5.36},{"s":"31.5 K","v":-2.4,"o":5.38,"c":5.36},{"s":"31.5 K","v":-2.35,"o":5.34,"c":5.36},{"s":"31.5 K","v":-2.3,"o":5.36,"c":5.36},{"s":"31.5 K","v":-2.25,"o":5.37,"c":5.36},{"s":"31.5 K","v":-2.2,"o":5.35,"c":5.36},{"s":"31.5 K","v":-2.15,"o":5.38,"c":5.36},{"s":"31.5 K","v":-2.1,"o":5.35,"c":5.36},{"s":"31.5 K","v":-2.05,"o":5.36,"c":5.36},
{"s":"31.5 K","v":-2,"o":5.37,"c":5.36},{"s":"31.5 K","v":-1.95,"o":5.34,"c":5.36},{"s":"31.5 K","v":-1.9,"o":5.37,"c":5.36},{"s":"31.5 K","v":-1.85,"o":5.36,"c":5.36},{"s":"31.5 K","v":-1.8,"o":5.35,"c":5.36},{"s":"31.5 K","v":-1.75,"o":5.38,"c":5.36},{"s":"31.5 K","v":-1.7,"o":5.37,"c":5.36},{"s":"31.5 K","v":-1.65,"o":5.35,"c":5.36},{"s":"31.5 K","v":-1.6,"o":5.34,"c":5.36},{"s":"31.5 K","v":-1.55,"o":5.36,"c":5.36},
{"s":"31.5 K","v":-1.5,"o":5.37,"c":5.36},{"s":"31.5 K","v":-1.45,"o":5.38,"c":5.36},{"s":"31.5 K","v":-1.4,"o":5.35,"c":5.36},{"s":"31.5 K","v":-1.35,"o":5.36,"c":5.36},{"s":"31.5 K","v":-1.3,"o":5.35,"c":5.36},{"s":"31.5 K","v":-1.25,"o":5.365,"c":5.355},{"s":"31.5 K","v":-1.2,"o":5.375,"c":5.355},{"s":"31.5 K","v":-1.15,"o":5.33,"c":5.35},{"s":"31.5 K","v":-1.1,"o":5.35,"c":5.35},{"s":"31.5 K","v":-1.05,"o":5.355,"c":5.345},
{"s":"31.5 K","v":-1,"o":5.335,"c":5.345},{"s":"31.5 K","v":-0.95,"o":5.34,"c":5.34},{"s":"31.5 K","v":-0.9,"o":5.36,"c":5.34},{"s":"31.5 K","v":-0.85,"o":5.325,"c":5.335},{"s":"31.5 K","v":-0.8,"o":5.345,"c":5.335},{"s":"31.5 K","v":-0.75,"o":5.33,"c":5.33},{"s":"31.5 K","v":-0.7,"o":5.31,"c":5.33},{"s":"31.5 K","v":-0.65,"o":5.335,"c":5.325},{"s":"31.5 K","v":-0.6,"o":5.34,"c":5.32},{"s":"31.5 K","v":-0.55,"o":5.305,"c":5.315},
{"s":"31.5 K","v":-0.5,"o":5.31,"c":5.31},{"s":"31.5 K","v":-0.45,"o":5.31,"c":5.3},{"s":"31.5 K","v":-0.4,"o":5.28,"c":5.29},{"s":"31.5 K","v":-0.35,"o":5.275,"c":5.275},{"s":"31.5 K","v":-0.3,"o":5.28,"c":5.26},{"s":"31.5 K","v":-0.25,"o":5.22,"c":5.24},{"s":"31.5 K","v":-0.2,"o":5.22,"c":5.21},{"s":"31.5 K","v":-0.15,"o":5.185,"c":5.185},{"s":"31.5 K","v":-0.1,"o":5.145,"c":5.155},{"s":"31.5 K","v":-0.05,"o":5.11,"c":5.1},
{"s":"31.5 K","v":0,"o":5.02,"c":5.0},{"s":"31.5 K","v":0.05,"o":4.88,"c":4.88},{"s":"31.5 K","v":0.1,"o":4.69,"c":4.71},{"s":"31.5 K","v":0.15,"o":4.52,"c":4.51},{"s":"31.5 K","v":0.2,"o":4.33,"c":4.34},{"s":"31.5 K","v":0.25,"o":4.2,"c":4.2},{"s":"31.5 K","v":0.3,"o":4.1,"c":4.08},{"s":"31.5 K","v":0.35,"o":4.12,"c":4.11},{"s":"31.5 K","v":0.4,"o":4.27,"c":4.28},{"s":"31.5 K","v":0.45,"o":4.45,"c":4.47},
{"s":"31.5 K","v":0.5,"o":4.71,"c":4.7},{"s":"31.5 K","v":0.55,"o":4.89,"c":4.89},{"s":"31.5 K","v":0.6,"o":5.02,"c":5.01},{"s":"31.5 K","v":0.65,"o":5.1,"c":5.11},{"s":"31.5 K","v":0.7,"o":5.18,"c":5.16},{"s":"31.5 K","v":0.75,"o":5.205,"c":5.205},{"s":"31.5 K","v":0.8,"o":5.22,"c":5.23},{"s":"31.5 K","v":0.85,"o":5.26,"c":5.25},{"s":"31.5 K","v":0.9,"o":5.25,"c":5.27},{"s":"31.5 K","v":0.95,"o":5.285,"c":5.285},
{"s":"31.5 K","v":1,"o":5.32,"c":5.3},{"s":"31.5 K","v":1.05,"o":5.295,"c":5.305},{"s":"31.5 K","v":1.1,"o":5.32,"c":5.31},{"s":"31.5 K","v":1.15,"o":5.315,"c":5.315},{"s":"31.5 K","v":1.2,"o":5.31,"c":5.32},{"s":"31.5 K","v":1.25,"o":5.345,"c":5.325},{"s":"31.5 K","v":1.3,"o":5.31,"c":5.33},{"s":"31.5 K","v":1.35,"o":5.345,"c":5.335},{"s":"31.5 K","v":1.4,"o":5.34,"c":5.34},{"s":"31.5 K","v":1.45,"o":5.355,"c":5.345},
{"s":"31.5 K","v":1.5,"o":5.335,"c":5.345},{"s":"31.5 K","v":1.55,"o":5.37,"c":5.35},{"s":"31.5 K","v":1.6,"o":5.35,"c":5.35},{"s":"31.5 K","v":1.65,"o":5.34,"c":5.35},{"s":"31.5 K","v":1.7,"o":5.365,"c":5.355},{"s":"31.5 K","v":1.75,"o":5.335,"c":5.355},{"s":"31.5 K","v":1.8,"o":5.375,"c":5.355},{"s":"31.5 K","v":1.85,"o":5.36,"c":5.36},{"s":"31.5 K","v":1.9,"o":5.35,"c":5.36},{"s":"31.5 K","v":1.95,"o":5.37,"c":5.36},
{"s":"31.5 K","v":2,"o":5.36,"c":5.36},{"s":"31.5 K","v":2.05,"o":5.34,"c":5.36},{"s":"31.5 K","v":2.1,"o":5.37,"c":5.36},{"s":"31.5 K","v":2.15,"o":5.35,"c":5.36},{"s":"31.5 K","v":2.2,"o":5.37,"c":5.36},{"s":"31.5 K","v":2.25,"o":5.35,"c":5.36},{"s":"31.5 K","v":2.3,"o":5.38,"c":5.36},{"s":"31.5 K","v":2.35,"o":5.36,"c":5.36},{"s":"31.5 K","v":2.4,"o":5.34,"c":5.36},{"s":"31.5 K","v":2.45,"o":5.37,"c":5.36},{"s":"31.5 K","v":2.5,"o":5.37,"c":5.36},

{"s":"21.5 K","v":-2.5,"o":4.14,"c":4.15},{"s":"21.5 K","v":-2.45,"o":4.17,"c":4.15},{"s":"21.5 K","v":-2.4,"o":4.14,"c":4.15},{"s":"21.5 K","v":-2.35,"o":4.15,"c":4.15},{"s":"21.5 K","v":-2.3,"o":4.16,"c":4.15},{"s":"21.5 K","v":-2.25,"o":4.13,"c":4.15},{"s":"21.5 K","v":-2.2,"o":4.16,"c":4.15},{"s":"21.5 K","v":-2.15,"o":4.15,"c":4.15},{"s":"21.5 K","v":-2.1,"o":4.14,"c":4.15},{"s":"21.5 K","v":-2.05,"o":4.17,"c":4.15},
{"s":"21.5 K","v":-2,"o":4.16,"c":4.15},{"s":"21.5 K","v":-1.95,"o":4.14,"c":4.15},{"s":"21.5 K","v":-1.9,"o":4.13,"c":4.15},{"s":"21.5 K","v":-1.85,"o":4.15,"c":4.15},{"s":"21.5 K","v":-1.8,"o":4.16,"c":4.15},{"s":"21.5 K","v":-1.75,"o":4.17,"c":4.15},{"s":"21.5 K","v":-1.7,"o":4.14,"c":4.15},{"s":"21.5 K","v":-1.65,"o":4.15,"c":4.15},{"s":"21.5 K","v":-1.6,"o":4.14,"c":4.15},{"s":"21.5 K","v":-1.55,"o":4.16,"c":4.15},
{"s":"21.5 K","v":-1.5,"o":4.17,"c":4.15},{"s":"21.5 K","v":-1.45,"o":4.13,"c":4.15},{"s":"21.5 K","v":-1.4,"o":4.145,"c":4.145},{"s":"21.5 K","v":-1.35,"o":4.155,"c":4.145},{"s":"21.5 K","v":-1.3,"o":4.13,"c":4.14},{"s":"21.5 K","v":-1.25,"o":4.14,"c":4.14},{"s":"21.5 K","v":-1.2,"o":4.16,"c":4.14},{"s":"21.5 K","v":-1.15,"o":4.125,"c":4.135},{"s":"21.5 K","v":-1.1,"o":4.145,"c":4.135},{"s":"21.5 K","v":-1.05,"o":4.13,"c":4.13},
{"s":"21.5 K","v":-1,"o":4.11,"c":4.13},{"s":"21.5 K","v":-0.95,"o":4.135,"c":4.125},{"s":"21.5 K","v":-0.9,"o":4.14,"c":4.12},{"s":"21.5 K","v":-0.85,"o":4.105,"c":4.115},{"s":"21.5 K","v":-0.8,"o":4.11,"c":4.11},{"s":"21.5 K","v":-0.75,"o":4.12,"c":4.11},{"s":"21.5 K","v":-0.7,"o":4.095,"c":4.105},{"s":"21.5 K","v":-0.65,"o":4.105,"c":4.105},{"s":"21.5 K","v":-0.6,"o":4.12,"c":4.1},{"s":"21.5 K","v":-0.55,"o":4.075,"c":4.095},
{"s":"21.5 K","v":-0.5,"o":4.1,"c":4.09},{"s":"21.5 K","v":-0.45,"o":4.075,"c":4.075},{"s":"21.5 K","v":-0.4,"o":4.05,"c":4.06},{"s":"21.5 K","v":-0.35,"o":4.045,"c":4.035},{"s":"21.5 K","v":-0.3,"o":4.03,"c":4.01},{"s":"21.5 K","v":-0.25,"o":3.98,"c":3.98},{"s":"21.5 K","v":-0.2,"o":3.93,"c":3.95},{"s":"21.5 K","v":-0.15,"o":3.93,"c":3.92},{"s":"21.5 K","v":-0.1,"o":3.86,"c":3.87},{"s":"21.5 K","v":-0.05,"o":3.79,"c":3.79},
{"s":"21.5 K","v":0,"o":3.71,"c":3.69},{"s":"21.5 K","v":0.05,"o":3.56,"c":3.55},{"s":"21.5 K","v":0.1,"o":3.37,"c":3.38},{"s":"21.5 K","v":0.15,"o":3.18,"c":3.2},{"s":"21.5 K","v":0.2,"o":3.02,"c":3.01},{"s":"21.5 K","v":0.25,"o":2.84,"c":2.84},{"s":"21.5 K","v":0.3,"o":2.74,"c":2.73},{"s":"21.5 K","v":0.35,"o":2.8,"c":2.81},{"s":"21.5 K","v":0.4,"o":3.07,"c":3.05},{"s":"21.5 K","v":0.45,"o":3.26,"c":3.26},
{"s":"21.5 K","v":0.5,"o":3.52,"c":3.53},{"s":"21.5 K","v":0.55,"o":3.76,"c":3.75},{"s":"21.5 K","v":0.6,"o":3.84,"c":3.86},{"s":"21.5 K","v":0.65,"o":3.92,"c":3.92},{"s":"21.5 K","v":0.7,"o":3.99,"c":3.97},{"s":"21.5 K","v":0.75,"o":3.995,"c":4.005},{"s":"21.5 K","v":0.8,"o":4.035,"c":4.025},{"s":"21.5 K","v":0.85,"o":4.04,"c":4.04},{"s":"21.5 K","v":0.9,"o":4.045,"c":4.055},{"s":"21.5 K","v":0.95,"o":4.09,"c":4.07},
{"s":"21.5 K","v":1,"o":4.06,"c":4.08},{"s":"21.5 K","v":1.05,"o":4.1,"c":4.09},{"s":"21.5 K","v":1.1,"o":4.095,"c":4.095},{"s":"21.5 K","v":1.15,"o":4.115,"c":4.105},{"s":"21.5 K","v":1.2,"o":4.1,"c":4.11},{"s":"21.5 K","v":1.25,"o":4.135,"c":4.115},{"s":"21.5 K","v":1.3,"o":4.12,"c":4.12},{"s":"21.5 K","v":1.35,"o":4.115,"c":4.125},{"s":"21.5 K","v":1.4,"o":4.14,"c":4.13},{"s":"21.5 K","v":1.45,"o":4.115,"c":4.135},
{"s":"21.5 K","v":1.5,"o":4.155,"c":4.135},{"s":"21.5 K","v":1.55,"o":4.14,"c":4.14},{"s":"21.5 K","v":1.6,"o":4.13,"c":4.14},{"s":"21.5 K","v":1.65,"o":4.15,"c":4.14},{"s":"21.5 K","v":1.7,"o":4.145,"c":4.145},{"s":"21.5 K","v":1.75,"o":4.125,"c":4.145},{"s":"21.5 K","v":1.8,"o":4.155,"c":4.145},{"s":"21.5 K","v":1.85,"o":4.135,"c":4.145},{"s":"21.5 K","v":1.9,"o":4.16,"c":4.15},{"s":"21.5 K","v":1.95,"o":4.14,"c":4.15},
{"s":"21.5 K","v":2,"o":4.17,"c":4.15},{"s":"21.5 K","v":2.05,"o":4.15,"c":4.15},{"s":"21.5 K","v":2.1,"o":4.13,"c":4.15},{"s":"21.5 K","v":2.15,"o":4.16,"c":4.15},{"s":"21.5 K","v":2.2,"o":4.16,"c":4.15},{"s":"21.5 K","v":2.25,"o":4.14,"c":4.15},{"s":"21.5 K","v":2.3,"o":4.15,"c":4.15},{"s":"21.5 K","v":2.35,"o":4.17,"c":4.15},{"s":"21.5 K","v":2.4,"o":4.13,"c":4.15},{"s":"21.5 K","v":2.45,"o":4.15,"c":4.15},{"s":"21.5 K","v":2.5,"o":4.16,"c":4.15},

{"s":"20.1 K","v":-2.5,"o":2.765,"c":2.78},{"s":"20.1 K","v":-2.45,"o":2.81,"c":2.78},{"s":"20.1 K","v":-2.4,"o":2.795,"c":2.78},{"s":"20.1 K","v":-2.35,"o":2.765,"c":2.78},{"s":"20.1 K","v":-2.3,"o":2.75,"c":2.78},{"s":"20.1 K","v":-2.25,"o":2.78,"c":2.78},{"s":"20.1 K","v":-2.2,"o":2.795,"c":2.78},{"s":"20.1 K","v":-2.15,"o":2.81,"c":2.78},{"s":"20.1 K","v":-2.1,"o":2.765,"c":2.78},{"s":"20.1 K","v":-2.05,"o":2.78,"c":2.78},
{"s":"20.1 K","v":-2,"o":2.765,"c":2.78},{"s":"20.1 K","v":-1.95,"o":2.795,"c":2.78},{"s":"20.1 K","v":-1.9,"o":2.81,"c":2.78},{"s":"20.1 K","v":-1.85,"o":2.75,"c":2.78},{"s":"20.1 K","v":-1.8,"o":2.78,"c":2.78},{"s":"20.1 K","v":-1.75,"o":2.795,"c":2.78},{"s":"20.1 K","v":-1.7,"o":2.765,"c":2.78},{"s":"20.1 K","v":-1.65,"o":2.78,"c":2.78},{"s":"20.1 K","v":-1.6,"o":2.81,"c":2.78},{"s":"20.1 K","v":-1.55,"o":2.765,"c":2.78},
{"s":"20.1 K","v":-1.5,"o":2.795,"c":2.78},{"s":"20.1 K","v":-1.45,"o":2.78,"c":2.78},{"s":"20.1 K","v":-1.4,"o":2.75,"c":2.78},{"s":"20.1 K","v":-1.35,"o":2.795,"c":2.78},{"s":"20.1 K","v":-1.3,"o":2.81,"c":2.78},{"s":"20.1 K","v":-1.25,"o":2.765,"c":2.78},{"s":"20.1 K","v":-1.2,"o":2.78,"c":2.78},{"s":"20.1 K","v":-1.15,"o":2.79,"c":2.775},{"s":"20.1 K","v":-1.1,"o":2.76,"c":2.775},{"s":"20.1 K","v":-1.05,"o":2.77,"c":2.77},
{"s":"20.1 K","v":-1,"o":2.8,"c":2.77},{"s":"20.1 K","v":-0.95,"o":2.735,"c":2.765},{"s":"20.1 K","v":-0.9,"o":2.78,"c":2.765},{"s":"20.1 K","v":-0.85,"o":2.76,"c":2.76},{"s":"20.1 K","v":-0.8,"o":2.745,"c":2.76},{"s":"20.1 K","v":-0.75,"o":2.77,"c":2.755},{"s":"20.1 K","v":-0.7,"o":2.785,"c":2.755},{"s":"20.1 K","v":-0.65,"o":2.75,"c":2.75},{"s":"20.1 K","v":-0.6,"o":2.72,"c":2.75},{"s":"20.1 K","v":-0.55,"o":2.76,"c":2.745},
{"s":"20.1 K","v":-0.5,"o":2.725,"c":2.74},{"s":"20.1 K","v":-0.45,"o":2.73,"c":2.73},{"s":"20.1 K","v":-0.4,"o":2.75,"c":2.72},{"s":"20.1 K","v":-0.35,"o":2.725,"c":2.71},{"s":"20.1 K","v":-0.3,"o":2.68,"c":2.695},{"s":"20.1 K","v":-0.25,"o":2.64,"c":2.67},{"s":"20.1 K","v":-0.2,"o":2.645,"c":2.63},{"s":"20.1 K","v":-0.15,"o":2.585,"c":2.585},{"s":"20.1 K","v":-0.1,"o":2.535,"c":2.52},{"s":"20.1 K","v":-0.05,"o":2.395,"c":2.41},
{"s":"20.1 K","v":0,"o":2.3,"c":2.27},{"s":"20.1 K","v":0.05,"o":2.09,"c":2.09},{"s":"20.1 K","v":0.1,"o":1.895,"c":1.91},{"s":"20.1 K","v":0.15,"o":1.745,"c":1.73},{"s":"20.1 K","v":0.2,"o":1.55,"c":1.58},{"s":"20.1 K","v":0.25,"o":1.48,"c":1.48},{"s":"20.1 K","v":0.3,"o":1.44,"c":1.41},{"s":"20.1 K","v":0.35,"o":1.405,"c":1.42},{"s":"20.1 K","v":0.4,"o":1.545,"c":1.53},{"s":"20.1 K","v":0.45,"o":1.71,"c":1.71},
{"s":"20.1 K","v":0.5,"o":1.875,"c":1.89},{"s":"20.1 K","v":0.55,"o":2.11,"c":2.08},{"s":"20.1 K","v":0.6,"o":2.25,"c":2.28},{"s":"20.1 K","v":0.65,"o":2.415,"c":2.4},{"s":"20.1 K","v":0.7,"o":2.47,"c":2.47},{"s":"20.1 K","v":0.75,"o":2.535,"c":2.52},{"s":"20.1 K","v":0.8,"o":2.555,"c":2.57},{"s":"20.1 K","v":0.85,"o":2.62,"c":2.59},{"s":"20.1 K","v":0.9,"o":2.61,"c":2.61},{"s":"20.1 K","v":0.95,"o":2.61,"c":2.625},
{"s":"20.1 K","v":1,"o":2.655,"c":2.64},{"s":"20.1 K","v":1.05,"o":2.625,"c":2.655},{"s":"20.1 K","v":1.1,"o":2.7,"c":2.67},{"s":"20.1 K","v":1.15,"o":2.68,"c":2.68},{"s":"20.1 K","v":1.2,"o":2.675,"c":2.69},{"s":"20.1 K","v":1.25,"o":2.715,"c":2.7},{"s":"20.1 K","v":1.3,"o":2.705,"c":2.705},{"s":"20.1 K","v":1.35,"o":2.685,"c":2.715},{"s":"20.1 K","v":1.4,"o":2.735,"c":2.72},{"s":"20.1 K","v":1.45,"o":2.71,"c":2.725},
{"s":"20.1 K","v":1.5,"o":2.745,"c":2.73},{"s":"20.1 K","v":1.55,"o":2.72,"c":2.735},{"s":"20.1 K","v":1.6,"o":2.77,"c":2.74},{"s":"20.1 K","v":1.65,"o":2.745,"c":2.745},{"s":"20.1 K","v":1.7,"o":2.72,"c":2.75},{"s":"20.1 K","v":1.75,"o":2.77,"c":2.755},{"s":"20.1 K","v":1.8,"o":2.775,"c":2.76},{"s":"20.1 K","v":1.85,"o":2.745,"c":2.76},{"s":"20.1 K","v":1.9,"o":2.765,"c":2.765},{"s":"20.1 K","v":1.95,"o":2.795,"c":2.765},
{"s":"20.1 K","v":2,"o":2.74,"c":2.77},{"s":"20.1 K","v":2.05,"o":2.77,"c":2.77},{"s":"20.1 K","v":2.1,"o":2.79,"c":2.775},{"s":"20.1 K","v":2.15,"o":2.76,"c":2.775},{"s":"20.1 K","v":2.2,"o":2.81,"c":2.78},{"s":"20.1 K","v":2.25,"o":2.765,"c":2.78},{"s":"20.1 K","v":2.3,"o":2.78,"c":2.78},{"s":"20.1 K","v":2.35,"o":2.795,"c":2.78},{"s":"20.1 K","v":2.4,"o":2.75,"c":2.78},{"s":"20.1 K","v":2.45,"o":2.795,"c":2.78},{"s":"20.1 K","v":2.5,"o":2.78,"c":2.78},

{"s":"18.9 K","v":-2.5,"o":1.52,"c":1.53},{"s":"18.9 K","v":-2.45,"o":1.53,"c":1.53},{"s":"18.9 K","v":-2.4,"o":1.52,"c":1.53},{"s":"18.9 K","v":-2.35,"o":1.54,"c":1.53},{"s":"18.9 K","v":-2.3,"o":1.55,"c":1.53},{"s":"18.9 K","v":-2.25,"o":1.51,"c":1.53},{"s":"18.9 K","v":-2.2,"o":1.53,"c":1.53},{"s":"18.9 K","v":-2.15,"o":1.54,"c":1.53},{"s":"18.9 K","v":-2.1,"o":1.52,"c":1.53},{"s":"18.9 K","v":-2.05,"o":1.53,"c":1.53},
{"s":"18.9 K","v":-2,"o":1.55,"c":1.53},{"s":"18.9 K","v":-1.95,"o":1.52,"c":1.53},{"s":"18.9 K","v":-1.9,"o":1.54,"c":1.53},{"s":"18.9 K","v":-1.85,"o":1.53,"c":1.53},{"s":"18.9 K","v":-1.8,"o":1.51,"c":1.53},{"s":"18.9 K","v":-1.75,"o":1.54,"c":1.53},{"s":"18.9 K","v":-1.7,"o":1.55,"c":1.53},{"s":"18.9 K","v":-1.65,"o":1.52,"c":1.53},{"s":"18.9 K","v":-1.6,"o":1.53,"c":1.53},{"s":"18.9 K","v":-1.55,"o":1.54,"c":1.53},
{"s":"18.9 K","v":-1.5,"o":1.52,"c":1.53},{"s":"18.9 K","v":-1.45,"o":1.53,"c":1.53},{"s":"18.9 K","v":-1.4,"o":1.55,"c":1.53},{"s":"18.9 K","v":-1.35,"o":1.51,"c":1.53},{"s":"18.9 K","v":-1.3,"o":1.54,"c":1.53},{"s":"18.9 K","v":-1.25,"o":1.53,"c":1.53},{"s":"18.9 K","v":-1.2,"o":1.515,"c":1.525},{"s":"18.9 K","v":-1.15,"o":1.535,"c":1.525},{"s":"18.9 K","v":-1.1,"o":1.54,"c":1.52},{"s":"18.9 K","v":-1.05,"o":1.52,"c":1.52},
{"s":"18.9 K","v":-1,"o":1.5,"c":1.52},{"s":"18.9 K","v":-0.95,"o":1.53,"c":1.52},{"s":"18.9 K","v":-0.9,"o":1.505,"c":1.515},{"s":"18.9 K","v":-0.85,"o":1.515,"c":1.515},{"s":"18.9 K","v":-0.8,"o":1.535,"c":1.515},{"s":"18.9 K","v":-0.75,"o":1.52,"c":1.51},{"s":"18.9 K","v":-0.7,"o":1.5,"c":1.51},{"s":"18.9 K","v":-0.65,"o":1.485,"c":1.505},{"s":"18.9 K","v":-0.6,"o":1.515,"c":1.505},{"s":"18.9 K","v":-0.55,"o":1.5,"c":1.5},
{"s":"18.9 K","v":-0.5,"o":1.5,"c":1.49},{"s":"18.9 K","v":-0.45,"o":1.465,"c":1.475},{"s":"18.9 K","v":-0.4,"o":1.475,"c":1.455},{"s":"18.9 K","v":-0.35,"o":1.43,"c":1.43},{"s":"18.9 K","v":-0.3,"o":1.395,"c":1.405},{"s":"18.9 K","v":-0.25,"o":1.39,"c":1.38},{"s":"18.9 K","v":-0.2,"o":1.32,"c":1.34},{"s":"18.9 K","v":-0.15,"o":1.28,"c":1.28},{"s":"18.9 K","v":-0.1,"o":1.2,"c":1.18},{"s":"18.9 K","v":-0.05,"o":1.03,"c":1.04},
{"s":"18.9 K","v":0,"o":0.91,"c":0.9},{"s":"18.9 K","v":0.05,"o":0.79,"c":0.79},{"s":"18.9 K","v":0.1,"o":0.67,"c":0.68},{"s":"18.9 K","v":0.15,"o":0.57,"c":0.55},{"s":"18.9 K","v":0.2,"o":0.4,"c":0.42},{"s":"18.9 K","v":0.25,"o":0.32,"c":0.31},{"s":"18.9 K","v":0.3,"o":0.22,"c":0.22},{"s":"18.9 K","v":0.35,"o":0.19,"c":0.18},{"s":"18.9 K","v":0.4,"o":0.23,"c":0.24},{"s":"18.9 K","v":0.45,"o":0.39,"c":0.37},
{"s":"18.9 K","v":0.5,"o":0.55,"c":0.55},{"s":"18.9 K","v":0.55,"o":0.77,"c":0.78},{"s":"18.9 K","v":0.6,"o":0.99,"c":0.98},{"s":"18.9 K","v":0.65,"o":1.08,"c":1.1},{"s":"18.9 K","v":0.7,"o":1.2,"c":1.18},{"s":"18.9 K","v":0.75,"o":1.26,"c":1.26},{"s":"18.9 K","v":0.8,"o":1.305,"c":1.315},{"s":"18.9 K","v":0.85,"o":1.36,"c":1.35},{"s":"18.9 K","v":0.9,"o":1.38,"c":1.38},{"s":"18.9 K","v":0.95,"o":1.385,"c":1.405},
{"s":"18.9 K","v":1,"o":1.43,"c":1.42},{"s":"18.9 K","v":1.05,"o":1.425,"c":1.435},{"s":"18.9 K","v":1.1,"o":1.455,"c":1.445},{"s":"18.9 K","v":1.15,"o":1.45,"c":1.46},{"s":"18.9 K","v":1.2,"o":1.49,"c":1.47},{"s":"18.9 K","v":1.25,"o":1.48,"c":1.48},{"s":"18.9 K","v":1.3,"o":1.465,"c":1.485},{"s":"18.9 K","v":1.35,"o":1.5,"c":1.49},{"s":"18.9 K","v":1.4,"o":1.505,"c":1.495},{"s":"18.9 K","v":1.45,"o":1.49,"c":1.5},
{"s":"18.9 K","v":1.5,"o":1.5,"c":1.5},{"s":"18.9 K","v":1.55,"o":1.525,"c":1.505},{"s":"18.9 K","v":1.6,"o":1.485,"c":1.505},{"s":"18.9 K","v":1.65,"o":1.51,"c":1.51},{"s":"18.9 K","v":1.7,"o":1.52,"c":1.51},{"s":"18.9 K","v":1.75,"o":1.505,"c":1.515},{"s":"18.9 K","v":1.8,"o":1.535,"c":1.515},{"s":"18.9 K","v":1.85,"o":1.51,"c":1.52},{"s":"18.9 K","v":1.9,"o":1.52,"c":1.52},{"s":"18.9 K","v":1.95,"o":1.53,"c":1.52},
{"s":"18.9 K","v":2,"o":1.5,"c":1.52},{"s":"18.9 K","v":2.05,"o":1.535,"c":1.525},{"s":"18.9 K","v":2.1,"o":1.525,"c":1.525},{"s":"18.9 K","v":2.15,"o":1.515,"c":1.525},{"s":"18.9 K","v":2.2,"o":1.55,"c":1.53},{"s":"18.9 K","v":2.25,"o":1.54,"c":1.53},{"s":"18.9 K","v":2.3,"o":1.52,"c":1.53},{"s":"18.9 K","v":2.35,"o":1.51,"c":1.53},{"s":"18.9 K","v":2.4,"o":1.53,"c":1.53},{"s":"18.9 K","v":2.45,"o":1.54,"c":1.53},{"s":"18.9 K","v":2.5,"o":1.55,"c":1.53}
],
"R": [
{"s":"17.2 K","v":-2.5,"o":6.445,"c":6.46},{"s":"17.2 K","v":-2.45,"o":6.46,"c":6.46},{"s":"17.2 K","v":-2.4,"o":6.49,"c":6.46},{"s":"17.2 K","v":-2.35,"o":6.445,"c":6.46},{"s":"17.2 K","v":-2.3,"o":6.475,"c":6.46},{"s":"17.2 K","v":-2.25,"o":6.46,"c":6.46},{"s":"17.2 K","v":-2.2,"o":6.43,"c":6.46},{"s":"17.2 K","v":-2.15,"o":6.475,"c":6.46},{"s":"17.2 K","v":-2.1,"o":6.49,"c":6.46},{"s":"17.2 K","v":-2.05,"o":6.445,"c":6.46},
{"s":"17.2 K","v":-2,"o":6.46,"c":6.46},{"s":"17.2 K","v":-1.95,"o":6.475,"c":6.46},{"s":"17.2 K","v":-1.9,"o":6.445,"c":6.46},{"s":"17.2 K","v":-1.85,"o":6.46,"c":6.46},{"s":"17.2 K","v":-1.8,"o":6.49,"c":6.46},{"s":"17.2 K","v":-1.75,"o":6.43,"c":6.46},{"s":"17.2 K","v":-1.7,"o":6.475,"c":6.46},{"s":"17.2 K","v":-1.65,"o":6.46,"c":6.46},{"s":"17.2 K","v":-1.6,"o":6.445,"c":6.46},{"s":"17.2 K","v":-1.55,"o":6.475,"c":6.46},
{"s":"17.2 K","v":-1.5,"o":6.49,"c":6.46},{"s":"17.2 K","v":-1.45,"o":6.46,"c":6.46},{"s":"17.2 K","v":-1.4,"o":6.43,"c":6.46},{"s":"17.2 K","v":-1.35,"o":6.475,"c":6.46},{"s":"17.2 K","v":-1.3,"o":6.445,"c":6.46},{"s":"17.2 K","v":-1.25,"o":6.46,"c":6.46},{"s":"17.2 K","v":-1.2,"o":6.49,"c":6.46},{"s":"17.2 K","v":-1.15,"o":6.475,"c":6.46},{"s":"17.2 K","v":-1.1,"o":6.44,"c":6.455},{"s":"17.2 K","v":-1.05,"o":6.425,"c":6.455},
{"s":"17.2 K","v":-1,"o":6.47,"c":6.455},{"s":"17.2 K","v":-0.95,"o":6.45,"c":6.45},{"s":"17.2 K","v":-0.9,"o":6.465,"c":6.45},{"s":"17.2 K","v":-0.85,"o":6.43,"c":6.445},{"s":"17.2 K","v":-0.8,"o":6.475,"c":6.445},{"s":"17.2 K","v":-0.75,"o":6.44,"c":6.44},{"s":"17.2 K","v":-0.7,"o":6.415,"c":6.43},{"s":"17.2 K","v":-0.65,"o":6.44,"c":6.425},{"s":"17.2 K","v":-0.6,"o":6.385,"c":6.415},{"s":"17.2 K","v":-0.55,"o":6.4,"c":6.4},
{"s":"17.2 K","v":-0.5,"o":6.42,"c":6.39},{"s":"17.2 K","v":-0.45,"o":6.355,"c":6.37},{"s":"17.2 K","v":-0.4,"o":6.365,"c":6.35},{"s":"17.2 K","v":-0.35,"o":6.31,"c":6.31},{"s":"17.2 K","v":-0.3,"o":6.245,"c":6.26},{"s":"17.2 K","v":-0.25,"o":6.22,"c":6.19},{"s":"17.2 K","v":-0.2,"o":6.08,"c":6.11},{"s":"17.2 K","v":-0.15,"o":6.035,"c":6.02},{"s":"17.2 K","v":-0.1,"o":5.91,"c":5.91},{"s":"17.2 K","v":-0.05,"o":5.815,"c":5.8},
{"s":"17.2 K","v":0,"o":5.675,"c":5.69},{"s":"17.2 K","v":0.05,"o":5.62,"c":5.59},{"s":"17.2 K","v":0.1,"o":5.5,"c":5.5},{"s":"17.2 K","v":0.15,"o":5.395,"c":5.41},{"s":"17.2 K","v":0.2,"o":5.335,"c":5.32},{"s":"17.2 K","v":0.25,"o":5.22,"c":5.25},{"s":"17.2 K","v":0.3,"o":5.23,"c":5.2},{"s":"17.2 K","v":0.35,"o":5.18,"c":5.18},{"s":"17.2 K","v":0.4,"o":5.165,"c":5.18},{"s":"17.2 K","v":0.45,"o":5.265,"c":5.25},
{"s":"17.2 K","v":0.5,"o":5.36,"c":5.36},{"s":"17.2 K","v":0.55,"o":5.44,"c":5.47},{"s":"17.2 K","v":0.6,"o":5.595,"c":5.58},{"s":"17.2 K","v":0.65,"o":5.685,"c":5.7},{"s":"17.2 K","v":0.7,"o":5.855,"c":5.84},{"s":"17.2 K","v":0.75,"o":5.965,"c":5.98},{"s":"17.2 K","v":0.8,"o":6.16,"c":6.13},{"s":"17.2 K","v":0.85,"o":6.22,"c":6.22},{"s":"17.2 K","v":0.9,"o":6.24,"c":6.27},{"s":"17.2 K","v":0.95,"o":6.325,"c":6.31},
{"s":"17.2 K","v":1,"o":6.355,"c":6.34},{"s":"17.2 K","v":1.05,"o":6.355,"c":6.37},{"s":"17.2 K","v":1.1,"o":6.39,"c":6.39},{"s":"17.2 K","v":1.15,"o":6.435,"c":6.405},{"s":"17.2 K","v":1.2,"o":6.39,"c":6.42},{"s":"17.2 K","v":1.25,"o":6.43,"c":6.43},{"s":"17.2 K","v":1.3,"o":6.45,"c":6.435},{"s":"17.2 K","v":1.35,"o":6.43,"c":6.445},{"s":"17.2 K","v":1.4,"o":6.48,"c":6.45},{"s":"17.2 K","v":1.45,"o":6.44,"c":6.455},
{"s":"17.2 K","v":1.5,"o":6.46,"c":6.46},{"s":"17.2 K","v":1.55,"o":6.475,"c":6.46},{"s":"17.2 K","v":1.6,"o":6.435,"c":6.465},{"s":"17.2 K","v":1.65,"o":6.48,"c":6.465},{"s":"17.2 K","v":1.7,"o":6.47,"c":6.47},{"s":"17.2 K","v":1.75,"o":6.455,"c":6.47},{"s":"17.2 K","v":1.8,"o":6.5,"c":6.47},{"s":"17.2 K","v":1.85,"o":6.49,"c":6.475},{"s":"17.2 K","v":1.9,"o":6.46,"c":6.475},{"s":"17.2 K","v":1.95,"o":6.445,"c":6.475},
{"s":"17.2 K","v":2,"o":6.475,"c":6.475},{"s":"17.2 K","v":2.05,"o":6.49,"c":6.475},{"s":"17.2 K","v":2.1,"o":6.505,"c":6.475},{"s":"17.2 K","v":2.15,"o":6.46,"c":6.475},{"s":"17.2 K","v":2.2,"o":6.475,"c":6.475},{"s":"17.2 K","v":2.25,"o":6.46,"c":6.475},{"s":"17.2 K","v":2.3,"o":6.49,"c":6.475},{"s":"17.2 K","v":2.35,"o":6.505,"c":6.475},{"s":"17.2 K","v":2.4,"o":6.445,"c":6.475},{"s":"17.2 K","v":2.45,"o":6.475,"c":6.475},{"s":"17.2 K","v":2.5,"o":6.49,"c":6.475},

{"s":"15.7 K","v":-2.5,"o":5.3,"c":5.33},{"s":"15.7 K","v":-2.45,"o":5.345,"c":5.33},{"s":"15.7 K","v":-2.4,"o":5.36,"c":5.33},{"s":"15.7 K","v":-2.35,"o":5.315,"c":5.33},{"s":"15.7 K","v":-2.3,"o":5.33,"c":5.33},{"s":"15.7 K","v":-2.25,"o":5.345,"c":5.33},{"s":"15.7 K","v":-2.2,"o":5.315,"c":5.33},{"s":"15.7 K","v":-2.15,"o":5.33,"c":5.33},{"s":"15.7 K","v":-2.1,"o":5.36,"c":5.33},{"s":"15.7 K","v":-2.05,"o":5.3,"c":5.33},
{"s":"15.7 K","v":-2,"o":5.345,"c":5.33},{"s":"15.7 K","v":-1.95,"o":5.33,"c":5.33},{"s":"15.7 K","v":-1.9,"o":5.315,"c":5.33},{"s":"15.7 K","v":-1.85,"o":5.345,"c":5.33},{"s":"15.7 K","v":-1.8,"o":5.36,"c":5.33},{"s":"15.7 K","v":-1.75,"o":5.33,"c":5.33},{"s":"15.7 K","v":-1.7,"o":5.3,"c":5.33},{"s":"15.7 K","v":-1.65,"o":5.345,"c":5.33},{"s":"15.7 K","v":-1.6,"o":5.315,"c":5.33},{"s":"15.7 K","v":-1.55,"o":5.33,"c":5.33},
{"s":"15.7 K","v":-1.5,"o":5.36,"c":5.33},{"s":"15.7 K","v":-1.45,"o":5.345,"c":5.33},{"s":"15.7 K","v":-1.4,"o":5.315,"c":5.33},{"s":"15.7 K","v":-1.35,"o":5.3,"c":5.33},{"s":"15.7 K","v":-1.3,"o":5.345,"c":5.33},{"s":"15.7 K","v":-1.25,"o":5.33,"c":5.33},{"s":"15.7 K","v":-1.2,"o":5.345,"c":5.33},{"s":"15.7 K","v":-1.15,"o":5.31,"c":5.325},{"s":"15.7 K","v":-1.1,"o":5.355,"c":5.325},{"s":"15.7 K","v":-1.05,"o":5.32,"c":5.32},
{"s":"15.7 K","v":-1,"o":5.305,"c":5.32},{"s":"15.7 K","v":-0.95,"o":5.33,"c":5.315},{"s":"15.7 K","v":-0.9,"o":5.285,"c":5.315},{"s":"15.7 K","v":-0.85,"o":5.31,"c":5.31},{"s":"15.7 K","v":-0.8,"o":5.335,"c":5.305},{"s":"15.7 K","v":-0.75,"o":5.285,"c":5.3},{"s":"15.7 K","v":-0.7,"o":5.31,"c":5.295},{"s":"15.7 K","v":-0.65,"o":5.28,"c":5.28},{"s":"15.7 K","v":-0.6,"o":5.25,"c":5.265},{"s":"15.7 K","v":-0.55,"o":5.27,"c":5.24},
{"s":"15.7 K","v":-0.5,"o":5.17,"c":5.2},{"s":"15.7 K","v":-0.45,"o":5.17,"c":5.155},{"s":"15.7 K","v":-0.4,"o":5.11,"c":5.11},{"s":"15.7 K","v":-0.35,"o":5.075,"c":5.06},{"s":"15.7 K","v":-0.3,"o":4.985,"c":5.0},{"s":"15.7 K","v":-0.25,"o":4.96,"c":4.93},{"s":"15.7 K","v":-0.2,"o":4.83,"c":4.83},{"s":"15.7 K","v":-0.15,"o":4.685,"c":4.7},{"s":"15.7 K","v":-0.1,"o":4.585,"c":4.57},{"s":"15.7 K","v":-0.05,"o":4.44,"c":4.47},
{"s":"15.7 K","v":0,"o":4.43,"c":4.4},{"s":"15.7 K","v":0.05,"o":4.34,"c":4.34},{"s":"15.7 K","v":0.1,"o":4.255,"c":4.27},{"s":"15.7 K","v":0.15,"o":4.225,"c":4.21},{"s":"15.7 K","v":0.2,"o":4.15,"c":4.15},{"s":"15.7 K","v":0.25,"o":4.07,"c":4.1},{"s":"15.7 K","v":0.3,"o":4.045,"c":4.03},{"s":"15.7 K","v":0.35,"o":4.005,"c":4.02},{"s":"15.7 K","v":0.4,"o":4.085,"c":4.07},{"s":"15.7 K","v":0.45,"o":4.115,"c":4.13},
{"s":"15.7 K","v":0.5,"o":4.2,"c":4.17},{"s":"15.7 K","v":0.55,"o":4.24,"c":4.24},{"s":"15.7 K","v":0.6,"o":4.32,"c":4.35},{"s":"15.7 K","v":0.65,"o":4.475,"c":4.46},{"s":"15.7 K","v":0.7,"o":4.645,"c":4.63},{"s":"15.7 K","v":0.75,"o":4.795,"c":4.81},{"s":"15.7 K","v":0.8,"o":4.95,"c":4.95},{"s":"15.7 K","v":0.85,"o":5.07,"c":5.04},{"s":"15.7 K","v":0.9,"o":5.08,"c":5.11},{"s":"15.7 K","v":0.95,"o":5.15,"c":5.15},
{"s":"15.7 K","v":1,"o":5.195,"c":5.18},{"s":"15.7 K","v":1.05,"o":5.185,"c":5.2},{"s":"15.7 K","v":1.1,"o":5.25,"c":5.22},{"s":"15.7 K","v":1.15,"o":5.225,"c":5.24},{"s":"15.7 K","v":1.2,"o":5.255,"c":5.255},{"s":"15.7 K","v":1.25,"o":5.28,"c":5.265},{"s":"15.7 K","v":1.3,"o":5.245,"c":5.275},{"s":"15.7 K","v":1.35,"o":5.3,"c":5.285},{"s":"15.7 K","v":1.4,"o":5.29,"c":5.29},{"s":"15.7 K","v":1.45,"o":5.285,"c":5.3},
{"s":"15.7 K","v":1.5,"o":5.335,"c":5.305},{"s":"15.7 K","v":1.55,"o":5.325,"c":5.31},{"s":"15.7 K","v":1.6,"o":5.295,"c":5.31},{"s":"15.7 K","v":1.65,"o":5.285,"c":5.315},{"s":"15.7 K","v":1.7,"o":5.315,"c":5.315},{"s":"15.7 K","v":1.75,"o":5.335,"c":5.32},{"s":"15.7 K","v":1.8,"o":5.35,"c":5.32},{"s":"15.7 K","v":1.85,"o":5.31,"c":5.325},{"s":"15.7 K","v":1.9,"o":5.325,"c":5.325},{"s":"15.7 K","v":1.95,"o":5.31,"c":5.325},
{"s":"15.7 K","v":2,"o":5.34,"c":5.325},{"s":"15.7 K","v":2.05,"o":5.355,"c":5.325},{"s":"15.7 K","v":2.1,"o":5.295,"c":5.325},{"s":"15.7 K","v":2.15,"o":5.325,"c":5.325},{"s":"15.7 K","v":2.2,"o":5.34,"c":5.325},{"s":"15.7 K","v":2.25,"o":5.31,"c":5.325},{"s":"15.7 K","v":2.3,"o":5.325,"c":5.325},{"s":"15.7 K","v":2.35,"o":5.355,"c":5.325},{"s":"15.7 K","v":2.4,"o":5.31,"c":5.325},{"s":"15.7 K","v":2.45,"o":5.34,"c":5.325},{"s":"15.7 K","v":2.5,"o":5.325,"c":5.325},

{"s":"12.0 K","v":-2.5,"o":4.16,"c":4.13},{"s":"12.0 K","v":-2.45,"o":4.1,"c":4.13},{"s":"12.0 K","v":-2.4,"o":4.145,"c":4.13},{"s":"12.0 K","v":-2.35,"o":4.13,"c":4.13},{"s":"12.0 K","v":-2.3,"o":4.115,"c":4.13},{"s":"12.0 K","v":-2.25,"o":4.145,"c":4.13},{"s":"12.0 K","v":-2.2,"o":4.16,"c":4.13},{"s":"12.0 K","v":-2.15,"o":4.13,"c":4.13},{"s":"12.0 K","v":-2.1,"o":4.1,"c":4.13},{"s":"12.0 K","v":-2.05,"o":4.145,"c":4.13},
{"s":"12.0 K","v":-2,"o":4.115,"c":4.13},{"s":"12.0 K","v":-1.95,"o":4.13,"c":4.13},{"s":"12.0 K","v":-1.9,"o":4.16,"c":4.13},{"s":"12.0 K","v":-1.85,"o":4.145,"c":4.13},{"s":"12.0 K","v":-1.8,"o":4.115,"c":4.13},{"s":"12.0 K","v":-1.75,"o":4.1,"c":4.13},{"s":"12.0 K","v":-1.7,"o":4.145,"c":4.13},{"s":"12.0 K","v":-1.65,"o":4.13,"c":4.13},{"s":"12.0 K","v":-1.6,"o":4.145,"c":4.13},{"s":"12.0 K","v":-1.55,"o":4.115,"c":4.13},
{"s":"12.0 K","v":-1.5,"o":4.16,"c":4.13},{"s":"12.0 K","v":-1.45,"o":4.13,"c":4.13},{"s":"12.0 K","v":-1.4,"o":4.11,"c":4.125},{"s":"12.0 K","v":-1.35,"o":4.135,"c":4.12},{"s":"12.0 K","v":-1.3,"o":4.09,"c":4.12},{"s":"12.0 K","v":-1.25,"o":4.115,"c":4.115},{"s":"12.0 K","v":-1.2,"o":4.145,"c":4.115},{"s":"12.0 K","v":-1.15,"o":4.095,"c":4.11},{"s":"12.0 K","v":-1.1,"o":4.125,"c":4.11},{"s":"12.0 K","v":-1.05,"o":4.105,"c":4.105},
{"s":"12.0 K","v":-1,"o":4.085,"c":4.1},{"s":"12.0 K","v":-0.95,"o":4.125,"c":4.095},{"s":"12.0 K","v":-0.9,"o":4.06,"c":4.09},{"s":"12.0 K","v":-0.85,"o":4.1,"c":4.085},{"s":"12.0 K","v":-0.8,"o":4.08,"c":4.08},{"s":"12.0 K","v":-0.75,"o":4.085,"c":4.07},{"s":"12.0 K","v":-0.7,"o":4.045,"c":4.06},{"s":"12.0 K","v":-0.65,"o":4.075,"c":4.045},{"s":"12.0 K","v":-0.6,"o":4.025,"c":4.025},{"s":"12.0 K","v":-0.55,"o":3.985,"c":4.0},
{"s":"12.0 K","v":-0.5,"o":3.985,"c":3.97},{"s":"12.0 K","v":-0.45,"o":3.905,"c":3.935},{"s":"12.0 K","v":-0.4,"o":3.93,"c":3.9},{"s":"12.0 K","v":-0.35,"o":3.81,"c":3.81},{"s":"12.0 K","v":-0.3,"o":3.695,"c":3.71},{"s":"12.0 K","v":-0.25,"o":3.595,"c":3.58},{"s":"12.0 K","v":-0.2,"o":3.43,"c":3.43},{"s":"12.0 K","v":-0.15,"o":3.29,"c":3.32},{"s":"12.0 K","v":-0.1,"o":3.265,"c":3.25},{"s":"12.0 K","v":-0.05,"o":3.185,"c":3.2},
{"s":"12.0 K","v":0,"o":3.175,"c":3.16},{"s":"12.0 K","v":0.05,"o":3.105,"c":3.12},{"s":"12.0 K","v":0.1,"o":3.11,"c":3.08},{"s":"12.0 K","v":0.15,"o":2.98,"c":2.98},{"s":"12.0 K","v":0.2,"o":2.84,"c":2.87},{"s":"12.0 K","v":0.25,"o":2.795,"c":2.78},{"s":"12.0 K","v":0.3,"o":2.725,"c":2.71},{"s":"12.0 K","v":0.35,"o":2.705,"c":2.72},{"s":"12.0 K","v":0.4,"o":2.81,"c":2.81},{"s":"12.0 K","v":0.45,"o":2.94,"c":2.91},
{"s":"12.0 K","v":0.5,"o":2.91,"c":2.94},{"s":"12.0 K","v":0.55,"o":2.93,"c":2.93},{"s":"12.0 K","v":0.6,"o":2.935,"c":2.92},{"s":"12.0 K","v":0.65,"o":2.985,"c":3.0},{"s":"12.0 K","v":0.7,"o":3.16,"c":3.13},{"s":"12.0 K","v":0.75,"o":3.265,"c":3.28},{"s":"12.0 K","v":0.8,"o":3.51,"c":3.51},{"s":"12.0 K","v":0.85,"o":3.695,"c":3.68},{"s":"12.0 K","v":0.9,"o":3.77,"c":3.8},{"s":"12.0 K","v":0.95,"o":3.895,"c":3.88},
{"s":"12.0 K","v":1,"o":3.93,"c":3.93},{"s":"12.0 K","v":1.05,"o":3.945,"c":3.96},{"s":"12.0 K","v":1.1,"o":4.01,"c":3.98},{"s":"12.0 K","v":1.15,"o":4.01,"c":3.995},{"s":"12.0 K","v":1.2,"o":3.995,"c":4.01},{"s":"12.0 K","v":1.25,"o":3.995,"c":4.025},{"s":"12.0 K","v":1.3,"o":4.035,"c":4.035},{"s":"12.0 K","v":1.35,"o":4.06,"c":4.045},{"s":"12.0 K","v":1.4,"o":4.085,"c":4.055},{"s":"12.0 K","v":1.45,"o":4.05,"c":4.065},
{"s":"12.0 K","v":1.5,"o":4.075,"c":4.075},{"s":"12.0 K","v":1.55,"o":4.065,"c":4.08},{"s":"12.0 K","v":1.6,"o":4.105,"c":4.09},{"s":"12.0 K","v":1.65,"o":4.125,"c":4.095},{"s":"12.0 K","v":1.7,"o":4.07,"c":4.1},{"s":"12.0 K","v":1.75,"o":4.1,"c":4.1},{"s":"12.0 K","v":1.8,"o":4.12,"c":4.105},{"s":"12.0 K","v":1.85,"o":4.09,"c":4.105},{"s":"12.0 K","v":1.9,"o":4.11,"c":4.11},{"s":"12.0 K","v":1.95,"o":4.14,"c":4.11},
{"s":"12.0 K","v":2,"o":4.1,"c":4.115},{"s":"12.0 K","v":2.05,"o":4.13,"c":4.115},{"s":"12.0 K","v":2.1,"o":4.12,"c":4.12},{"s":"12.0 K","v":2.15,"o":4.09,"c":4.12},{"s":"12.0 K","v":2.2,"o":4.135,"c":4.12},{"s":"12.0 K","v":2.25,"o":4.15,"c":4.12},{"s":"12.0 K","v":2.3,"o":4.105,"c":4.12},{"s":"12.0 K","v":2.35,"o":4.12,"c":4.12},{"s":"12.0 K","v":2.4,"o":4.135,"c":4.12},{"s":"12.0 K","v":2.45,"o":4.105,"c":4.12},{"s":"12.0 K","v":2.5,"o":4.12,"c":4.12},

{"s":"10.3 K","v":-2.5,"o":2.7,"c":2.75},{"s":"10.3 K","v":-2.45,"o":2.775,"c":2.75},{"s":"10.3 K","v":-2.4,"o":2.725,"c":2.75},{"s":"10.3 K","v":-2.35,"o":2.75,"c":2.75},{"s":"10.3 K","v":-2.3,"o":2.8,"c":2.75},{"s":"10.3 K","v":-2.25,"o":2.775,"c":2.75},{"s":"10.3 K","v":-2.2,"o":2.725,"c":2.75},{"s":"10.3 K","v":-2.15,"o":2.7,"c":2.75},{"s":"10.3 K","v":-2.1,"o":2.775,"c":2.75},{"s":"10.3 K","v":-2.05,"o":2.75,"c":2.75},
{"s":"10.3 K","v":-2,"o":2.775,"c":2.75},{"s":"10.3 K","v":-1.95,"o":2.725,"c":2.75},{"s":"10.3 K","v":-1.9,"o":2.795,"c":2.745},{"s":"10.3 K","v":-1.85,"o":2.745,"c":2.745},{"s":"10.3 K","v":-1.8,"o":2.72,"c":2.745},{"s":"10.3 K","v":-1.75,"o":2.765,"c":2.74},{"s":"10.3 K","v":-1.7,"o":2.69,"c":2.74},{"s":"10.3 K","v":-1.65,"o":2.74,"c":2.74},{"s":"10.3 K","v":-1.6,"o":2.785,"c":2.735},{"s":"10.3 K","v":-1.55,"o":2.71,"c":2.735},
{"s":"10.3 K","v":-1.5,"o":2.755,"c":2.73},{"s":"10.3 K","v":-1.45,"o":2.73,"c":2.73},{"s":"10.3 K","v":-1.4,"o":2.7,"c":2.725},{"s":"10.3 K","v":-1.35,"o":2.77,"c":2.72},{"s":"10.3 K","v":-1.3,"o":2.67,"c":2.72},{"s":"10.3 K","v":-1.25,"o":2.74,"c":2.715},{"s":"10.3 K","v":-1.2,"o":2.71,"c":2.71},{"s":"10.3 K","v":-1.15,"o":2.73,"c":2.705},{"s":"10.3 K","v":-1.1,"o":2.675,"c":2.7},{"s":"10.3 K","v":-1.05,"o":2.745,"c":2.695},
{"s":"10.3 K","v":-1,"o":2.69,"c":2.69},{"s":"10.3 K","v":-0.95,"o":2.655,"c":2.68},{"s":"10.3 K","v":-0.9,"o":2.7,"c":2.675},{"s":"10.3 K","v":-0.85,"o":2.615,"c":2.665},{"s":"10.3 K","v":-0.8,"o":2.71,"c":2.66},{"s":"10.3 K","v":-0.75,"o":2.65,"c":2.65},{"s":"10.3 K","v":-0.7,"o":2.615,"c":2.64},{"s":"10.3 K","v":-0.65,"o":2.655,"c":2.63},{"s":"10.3 K","v":-0.6,"o":2.615,"c":2.615},{"s":"10.3 K","v":-0.55,"o":2.55,"c":2.6},
{"s":"10.3 K","v":-0.5,"o":2.6,"c":2.575},{"s":"10.3 K","v":-0.45,"o":2.52,"c":2.545},{"s":"10.3 K","v":-0.4,"o":2.525,"c":2.5},{"s":"10.3 K","v":-0.35,"o":2.385,"c":2.41},{"s":"10.3 K","v":-0.3,"o":2.33,"c":2.28},{"s":"10.3 K","v":-0.25,"o":2.14,"c":2.14},{"s":"10.3 K","v":-0.2,"o":1.97,"c":2.02},{"s":"10.3 K","v":-0.15,"o":1.975,"c":1.95},{"s":"10.3 K","v":-0.1,"o":1.925,"c":1.9},{"s":"10.3 K","v":-0.05,"o":1.835,"c":1.86},
{"s":"10.3 K","v":0,"o":1.8,"c":1.8},{"s":"10.3 K","v":0.05,"o":1.79,"c":1.74},{"s":"10.3 K","v":0.1,"o":1.64,"c":1.69},{"s":"10.3 K","v":0.15,"o":1.65,"c":1.65},{"s":"10.3 K","v":0.2,"o":1.615,"c":1.59},{"s":"10.3 K","v":0.25,"o":1.485,"c":1.51},{"s":"10.3 K","v":0.3,"o":1.49,"c":1.44},{"s":"10.3 K","v":0.35,"o":1.405,"c":1.43},{"s":"10.3 K","v":0.4,"o":1.5,"c":1.5},{"s":"10.3 K","v":0.45,"o":1.595,"c":1.57},
{"s":"10.3 K","v":0.5,"o":1.57,"c":1.62},{"s":"10.3 K","v":0.55,"o":1.645,"c":1.62},{"s":"10.3 K","v":0.6,"o":1.6,"c":1.6},{"s":"10.3 K","v":0.65,"o":1.605,"c":1.63},{"s":"10.3 K","v":0.7,"o":1.75,"c":1.7},{"s":"10.3 K","v":0.75,"o":1.875,"c":1.85},{"s":"10.3 K","v":0.8,"o":2.015,"c":2.04},{"s":"10.3 K","v":0.85,"o":2.16,"c":2.21},{"s":"10.3 K","v":0.9,"o":2.37,"c":2.37},{"s":"10.3 K","v":0.95,"o":2.485,"c":2.46},
{"s":"10.3 K","v":1,"o":2.57,"c":2.52},{"s":"10.3 K","v":1.05,"o":2.535,"c":2.56},{"s":"10.3 K","v":1.1,"o":2.595,"c":2.595},{"s":"10.3 K","v":1.15,"o":2.59,"c":2.615},{"s":"10.3 K","v":1.2,"o":2.66,"c":2.635},{"s":"10.3 K","v":1.25,"o":2.705,"c":2.655},{"s":"10.3 K","v":1.3,"o":2.62,"c":2.67},{"s":"10.3 K","v":1.35,"o":2.685,"c":2.685},{"s":"10.3 K","v":1.4,"o":2.72,"c":2.695},{"s":"10.3 K","v":1.45,"o":2.68,"c":2.705},
{"s":"10.3 K","v":1.5,"o":2.71,"c":2.71},{"s":"10.3 K","v":1.55,"o":2.765,"c":2.715},{"s":"10.3 K","v":1.6,"o":2.695,"c":2.72},{"s":"10.3 K","v":1.65,"o":2.75,"c":2.725},{"s":"10.3 K","v":1.7,"o":2.73,"c":2.73},{"s":"10.3 K","v":1.75,"o":2.68,"c":2.73},{"s":"10.3 K","v":1.8,"o":2.76,"c":2.735},{"s":"10.3 K","v":1.85,"o":2.785,"c":2.735},{"s":"10.3 K","v":1.9,"o":2.715,"c":2.74},{"s":"10.3 K","v":1.95,"o":2.74,"c":2.74},
{"s":"10.3 K","v":2,"o":2.77,"c":2.745},{"s":"10.3 K","v":2.05,"o":2.72,"c":2.745},{"s":"10.3 K","v":2.1,"o":2.745,"c":2.745},{"s":"10.3 K","v":2.15,"o":2.8,"c":2.75},{"s":"10.3 K","v":2.2,"o":2.7,"c":2.75},{"s":"10.3 K","v":2.25,"o":2.775,"c":2.75},{"s":"10.3 K","v":2.3,"o":2.75,"c":2.75},{"s":"10.3 K","v":2.35,"o":2.725,"c":2.75},{"s":"10.3 K","v":2.4,"o":2.775,"c":2.75},{"s":"10.3 K","v":2.45,"o":2.8,"c":2.75},{"s":"10.3 K","v":2.5,"o":2.75,"c":2.75},

{"s":"4.2 K","v":-2.5,"o":1.525,"c":1.51},{"s":"4.2 K","v":-2.45,"o":1.51,"c":1.51},{"s":"4.2 K","v":-2.4,"o":1.525,"c":1.51},{"s":"4.2 K","v":-2.35,"o":1.495,"c":1.51},{"s":"4.2 K","v":-2.3,"o":1.54,"c":1.51},{"s":"4.2 K","v":-2.25,"o":1.51,"c":1.51},{"s":"4.2 K","v":-2.2,"o":1.495,"c":1.51},{"s":"4.2 K","v":-2.15,"o":1.525,"c":1.51},{"s":"4.2 K","v":-2.1,"o":1.48,"c":1.51},{"s":"4.2 K","v":-2.05,"o":1.51,"c":1.51},
{"s":"4.2 K","v":-2,"o":1.54,"c":1.51},{"s":"4.2 K","v":-1.95,"o":1.495,"c":1.51},{"s":"4.2 K","v":-1.9,"o":1.525,"c":1.51},{"s":"4.2 K","v":-1.85,"o":1.51,"c":1.51},{"s":"4.2 K","v":-1.8,"o":1.495,"c":1.51},{"s":"4.2 K","v":-1.75,"o":1.54,"c":1.51},{"s":"4.2 K","v":-1.7,"o":1.48,"c":1.51},{"s":"4.2 K","v":-1.65,"o":1.525,"c":1.51},{"s":"4.2 K","v":-1.6,"o":1.51,"c":1.51},{"s":"4.2 K","v":-1.55,"o":1.525,"c":1.51},
{"s":"4.2 K","v":-1.5,"o":1.49,"c":1.505},{"s":"4.2 K","v":-1.45,"o":1.535,"c":1.505},{"s":"4.2 K","v":-1.4,"o":1.5,"c":1.5},{"s":"4.2 K","v":-1.35,"o":1.485,"c":1.5},{"s":"4.2 K","v":-1.3,"o":1.515,"c":1.5},{"s":"4.2 K","v":-1.25,"o":1.465,"c":1.495},{"s":"4.2 K","v":-1.2,"o":1.525,"c":1.495},{"s":"4.2 K","v":-1.15,"o":1.49,"c":1.49},{"s":"4.2 K","v":-1.1,"o":1.475,"c":1.49},{"s":"4.2 K","v":-1.05,"o":1.5,"c":1.485},
{"s":"4.2 K","v":-1,"o":1.485,"c":1.485},{"s":"4.2 K","v":-0.95,"o":1.45,"c":1.48},{"s":"4.2 K","v":-0.9,"o":1.49,"c":1.475},{"s":"4.2 K","v":-0.85,"o":1.455,"c":1.47},{"s":"4.2 K","v":-0.8,"o":1.465,"c":1.45},{"s":"4.2 K","v":-0.75,"o":1.415,"c":1.43},{"s":"4.2 K","v":-0.7,"o":1.43,"c":1.4},{"s":"4.2 K","v":-0.65,"o":1.37,"c":1.37},{"s":"4.2 K","v":-0.6,"o":1.31,"c":1.34},{"s":"4.2 K","v":-0.55,"o":1.315,"c":1.3},
{"s":"4.2 K","v":-0.5,"o":1.245,"c":1.23},{"s":"4.2 K","v":-0.45,"o":1.115,"c":1.13},{"s":"4.2 K","v":-0.4,"o":1.01,"c":1.01},{"s":"4.2 K","v":-0.35,"o":0.92,"c":0.89},{"s":"4.2 K","v":-0.3,"o":0.75,"c":0.78},{"s":"4.2 K","v":-0.25,"o":0.68,"c":0.68},{"s":"4.2 K","v":-0.2,"o":0.635,"c":0.62},{"s":"4.2 K","v":-0.15,"o":0.575,"c":0.59},{"s":"4.2 K","v":-0.1,"o":0.59,"c":0.56},{"s":"4.2 K","v":-0.05,"o":0.515,"c":0.53},
{"s":"4.2 K","v":0,"o":0.49,"c":0.49},{"s":"4.2 K","v":0.05,"o":0.465,"c":0.45},{"s":"4.2 K","v":0.1,"o":0.39,"c":0.42},{"s":"4.2 K","v":0.15,"o":0.405,"c":0.39},{"s":"4.2 K","v":0.2,"o":0.35,"c":0.35},{"s":"4.2 K","v":0.25,"o":0.285,"c":0.3},{"s":"4.2 K","v":0.3,"o":0.29,"c":0.26},{"s":"4.2 K","v":0.35,"o":0.275,"c":0.26},{"s":"4.2 K","v":0.4,"o":0.295,"c":0.31},{"s":"4.2 K","v":0.45,"o":0.33,"c":0.36},
{"s":"4.2 K","v":0.5,"o":0.37,"c":0.37},{"s":"4.2 K","v":0.55,"o":0.365,"c":0.35},{"s":"4.2 K","v":0.6,"o":0.34,"c":0.31},{"s":"4.2 K","v":0.65,"o":0.245,"c":0.26},{"s":"4.2 K","v":0.7,"o":0.26,"c":0.26},{"s":"4.2 K","v":0.75,"o":0.345,"c":0.36},{"s":"4.2 K","v":0.8,"o":0.635,"c":0.62},{"s":"4.2 K","v":0.85,"o":0.85,"c":0.82},{"s":"4.2 K","v":0.9,"o":0.94,"c":0.97},{"s":"4.2 K","v":0.95,"o":1.08,"c":1.08},
{"s":"4.2 K","v":1,"o":1.185,"c":1.17},{"s":"4.2 K","v":1.05,"o":1.235,"c":1.25},{"s":"4.2 K","v":1.1,"o":1.31,"c":1.31},{"s":"4.2 K","v":1.15,"o":1.38,"c":1.35},{"s":"4.2 K","v":1.2,"o":1.365,"c":1.38},{"s":"4.2 K","v":1.25,"o":1.415,"c":1.4},{"s":"4.2 K","v":1.3,"o":1.42,"c":1.42},{"s":"4.2 K","v":1.35,"o":1.4,"c":1.43},{"s":"4.2 K","v":1.4,"o":1.455,"c":1.44},{"s":"4.2 K","v":1.45,"o":1.48,"c":1.45},
{"s":"4.2 K","v":1.5,"o":1.44,"c":1.455},{"s":"4.2 K","v":1.55,"o":1.46,"c":1.46},{"s":"4.2 K","v":1.6,"o":1.485,"c":1.47},{"s":"4.2 K","v":1.65,"o":1.46,"c":1.475},{"s":"4.2 K","v":1.7,"o":1.48,"c":1.48},{"s":"4.2 K","v":1.75,"o":1.51,"c":1.48},{"s":"4.2 K","v":1.8,"o":1.455,"c":1.485},{"s":"4.2 K","v":1.85,"o":1.5,"c":1.485},{"s":"4.2 K","v":1.9,"o":1.49,"c":1.49},{"s":"4.2 K","v":1.95,"o":1.475,"c":1.49},
{"s":"4.2 K","v":2,"o":1.51,"c":1.495},{"s":"4.2 K","v":2.05,"o":1.525,"c":1.495},{"s":"4.2 K","v":2.1,"o":1.5,"c":1.5},{"s":"4.2 K","v":2.15,"o":1.47,"c":1.5},{"s":"4.2 K","v":2.2,"o":1.515,"c":1.5},{"s":"4.2 K","v":2.25,"o":1.485,"c":1.5},{"s":"4.2 K","v":2.3,"o":1.5,"c":1.5},{"s":"4.2 K","v":2.35,"o":1.53,"c":1.5},{"s":"4.2 K","v":2.4,"o":1.515,"c":1.5},{"s":"4.2 K","v":2.45,"o":1.485,"c":1.5},{"s":"4.2 K","v":2.5,"o":1.47,"c":1.5}
]
},
"hconcat": [
{
 "width": 301, "height": 661,
 "layer": [
  {"data": {"name": "LX"},
   "mark": {"type": "point", "shape": "square", "filled": false, "size": 11, "strokeWidth": 0.85, "color": "#111"},
   "encoding": {
    "x": {"field": "v", "type": "quantitative", "scale": {"domain": [-2.5, 2.5], "nice": false}, "axis": {"orient": "top", "title": "Velocity (mm/s)", "values": [-2, -1, 0, 1, 2]}},
    "y": {"field": "o", "type": "quantitative", "scale": {"domain": [0, 6.61], "nice": false, "zero": false}, "axis": null}}},
  {"data": {"name": "L"},
   "mark": {"type": "point", "shape": "square", "filled": false, "size": 11, "strokeWidth": 0.85, "color": "#111"},
   "encoding": {
    "x": {"field": "v", "type": "quantitative", "scale": {"domain": [-2.5, 2.5], "nice": false}, "axis": null},
    "y": {"field": "o", "type": "quantitative", "scale": {"domain": [0, 6.61], "nice": false, "zero": false}, "axis": null}}},
  {"data": {"name": "L"},
   "mark": {"type": "line", "color": "#000", "strokeWidth": 1.1, "interpolate": "monotone"},
   "encoding": {
    "x": {"field": "v", "type": "quantitative", "scale": {"domain": [-2.5, 2.5], "nice": false}, "axis": {"orient": "bottom", "title": "Velocity (mm/s)", "values": [-2, -1, 0, 1, 2]}},
    "y": {"field": "c", "type": "quantitative", "scale": {"domain": [0, 6.61], "nice": false, "zero": false}, "axis": null},
    "detail": {"field": "s"}}},
  {"data": {"name": "labL"},
   "mark": {"type": "text", "align": "left", "baseline": "middle", "fontSize": 18, "color": "#000"},
   "encoding": {
    "x": {"field": "v", "type": "quantitative", "scale": {"domain": [-2.5, 2.5], "nice": false}, "axis": null},
    "y": {"field": "t", "type": "quantitative", "scale": {"domain": [0, 6.61], "nice": false, "zero": false}, "axis": null},
    "text": {"field": "s"}}}
 ],
 "resolve": {"axis": {"x": "independent"}}
},
{
 "width": 299, "height": 661,
 "layer": [
  {"data": {"name": "RX"},
   "mark": {"type": "point", "shape": "square", "filled": false, "size": 11, "strokeWidth": 0.85, "color": "#111"},
   "encoding": {
    "x": {"field": "v", "type": "quantitative", "scale": {"domain": [-2.5, 2.5], "nice": false}, "axis": {"orient": "top", "title": "Velocity (mm/s)", "values": [-2, -1, 0, 1, 2]}},
    "y": {"field": "o", "type": "quantitative", "scale": {"domain": [0, 6.61], "nice": false, "zero": false}, "axis": null}}},
  {"data": {"name": "R"},
   "mark": {"type": "point", "filled": false, "size": 11, "strokeWidth": 0.85, "color": "#111"},
   "encoding": {
    "x": {"field": "v", "type": "quantitative", "scale": {"domain": [-2.5, 2.5], "nice": false}, "axis": null},
    "y": {"field": "o", "type": "quantitative", "scale": {"domain": [0, 6.61], "nice": false, "zero": false}, "axis": null},
    "shape": {"datum": "Obs.", "type": "nominal", "scale": {"domain": ["Obs.", "Calc."], "range": ["square", "M-7.2,0H7.2"]},
      "legend": {"title": null, "orient": "none", "legendX": 569, "legendY": 617, "labelFontSize": 11, "labelColor": "#000", "symbolSize": 12, "symbolStrokeWidth": 1, "symbolStrokeColor": "#000", "symbolFillColor": "transparent", "labelOffset": 7, "rowPadding": 2}}}},
  {"data": {"name": "R"},
   "mark": {"type": "line", "color": "#000", "strokeWidth": 1.1, "interpolate": "monotone"},
   "encoding": {
    "x": {"field": "v", "type": "quantitative", "scale": {"domain": [-2.5, 2.5], "nice": false}, "axis": {"orient": "bottom", "title": "Velocity (mm/s)", "values": [-2, -1, 0, 1, 2]}},
    "y": {"field": "c", "type": "quantitative", "scale": {"domain": [0, 6.61], "nice": false, "zero": false}, "axis": null},
    "detail": {"field": "s"}}},
  {"data": {"name": "labR"},
   "mark": {"type": "text", "align": "left", "baseline": "middle", "fontSize": 18, "color": "#000"},
   "encoding": {
    "x": {"field": "v", "type": "quantitative", "scale": {"domain": [-2.5, 2.5], "nice": false}, "axis": null},
    "y": {"field": "t", "type": "quantitative", "scale": {"domain": [0, 6.61], "nice": false, "zero": false}, "axis": null},
    "text": {"field": "s"}}}
 ],
 "resolve": {"axis": {"x": "independent"}}
}
]
}
